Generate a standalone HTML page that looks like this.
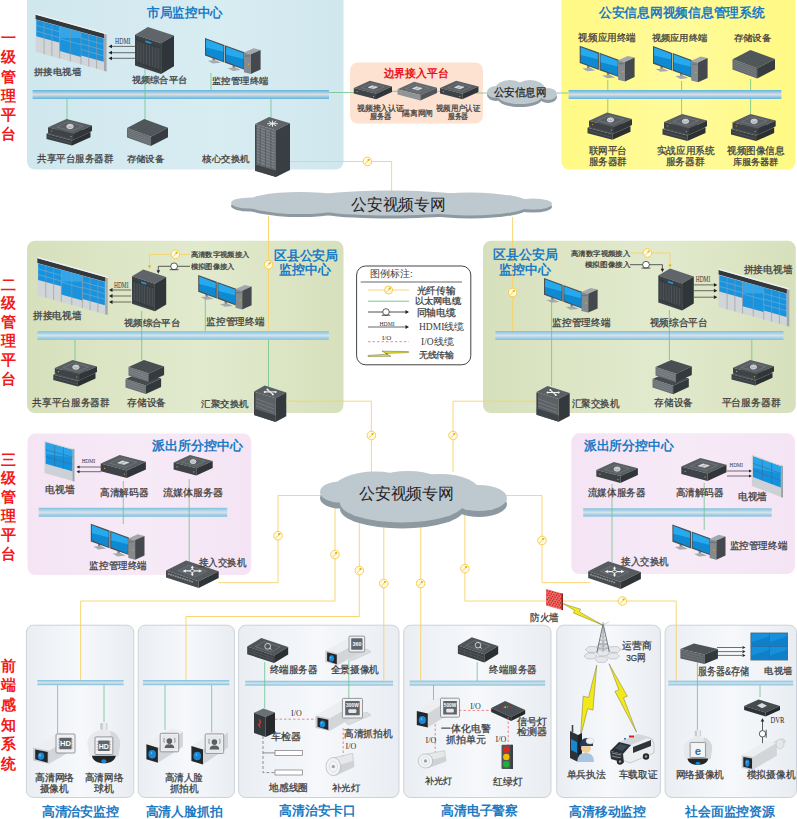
<!DOCTYPE html>
<html><head><meta charset="utf-8"><style>
html,body{margin:0;padding:0;background:#fff;width:797px;height:819px;overflow:hidden}
svg{display:block}
text{font-family:"Liberation Sans",sans-serif}
</style></head><body>
<svg width="797" height="819" viewBox="0 0 797 819">
<defs>
<linearGradient id="busg" x1="0" y1="0" x2="0" y2="1">
<stop offset="0" stop-color="#5fb4dc"/><stop offset="0.2" stop-color="#8fc6e4"/><stop offset="0.5" stop-color="#dcdde0"/><stop offset="0.8" stop-color="#8fc6e4"/><stop offset="1" stop-color="#5fb4dc"/>
</linearGradient>
<linearGradient id="busg2" x1="0" y1="0" x2="0" y2="1">
<stop offset="0" stop-color="#7cc0e0"/><stop offset="0.5" stop-color="#d6e2ea"/><stop offset="1" stop-color="#7cc0e0"/>
</linearGradient>
<linearGradient id="scr" x1="0" y1="0" x2="1" y2="1">
<stop offset="0" stop-color="#2aa8ee"/><stop offset="1" stop-color="#1177c4"/>
</linearGradient>
<linearGradient id="btm" x1="0" y1="0" x2="1" y2="0">
<stop offset="0" stop-color="#eaeef3"/><stop offset="0.5" stop-color="#f6f8fb"/><stop offset="1" stop-color="#e9edf2"/>
</linearGradient>
<linearGradient id="gblue" x1="0" y1="0" x2="1" y2="0">
<stop offset="0" stop-color="#d0e7ee"/><stop offset="0.6" stop-color="#d8edf2"/><stop offset="1" stop-color="#d0e7ee"/>
</linearGradient>
<linearGradient id="ggreen" x1="0" y1="0" x2="1" y2="0">
<stop offset="0" stop-color="#d7e0bc"/><stop offset="0.55" stop-color="#e2eace"/><stop offset="1" stop-color="#d7e0bc"/>
</linearGradient>
<linearGradient id="gyellow" x1="0" y1="0" x2="1" y2="0">
<stop offset="0" stop-color="#fff984"/><stop offset="0.5" stop-color="#fffb9a"/><stop offset="1" stop-color="#fff984"/>
</linearGradient>
<linearGradient id="gpink" x1="0" y1="0" x2="1" y2="0">
<stop offset="0" stop-color="#f4e4f4"/><stop offset="0.5" stop-color="#f7eaf7"/><stop offset="1" stop-color="#f4e4f4"/>
</linearGradient>
</defs>
<rect x="27.0" y="-8.0" width="316.5" height="177.5" rx="8" fill="url(#gblue)"/>
<rect x="350.0" y="62.5" width="133.0" height="61.0" rx="8" fill="#fde2d1"/>
<rect x="561.5" y="-8.0" width="234.0" height="177.5" rx="8" fill="url(#gyellow)"/>
<rect x="27.0" y="240.8" width="316.5" height="172.2" rx="8" fill="url(#ggreen)"/>
<rect x="483.0" y="240.8" width="312.8" height="172.2" rx="8" fill="url(#ggreen)"/>
<rect x="27.5" y="433.4" width="223.8" height="141.6" rx="8" fill="url(#gpink)"/>
<rect x="571.3" y="433.3" width="223.7" height="140.7" rx="8" fill="url(#gpink)"/>
<rect x="26.4" y="625.2" width="107.4" height="172.3" rx="7" fill="url(#btm)" stroke="#cdd2da" stroke-width="1"/>
<rect x="138.2" y="625.2" width="96.2" height="172.3" rx="7" fill="url(#btm)" stroke="#cdd2da" stroke-width="1"/>
<rect x="238.6" y="625.2" width="160.4" height="172.3" rx="7" fill="url(#btm)" stroke="#cdd2da" stroke-width="1"/>
<rect x="403.7" y="625.2" width="147.3" height="172.3" rx="7" fill="url(#btm)" stroke="#cdd2da" stroke-width="1"/>
<rect x="556.7" y="625.2" width="103.7" height="172.3" rx="7" fill="url(#btm)" stroke="#cdd2da" stroke-width="1"/>
<rect x="665.1" y="625.2" width="131.4" height="172.3" rx="7" fill="url(#btm)" stroke="#cdd2da" stroke-width="1"/>
<text x="8.3" y="37.7" font-size="15.00" fill="#f41a1a" text-anchor="middle" font-weight="bold" dominant-baseline="central" letter-spacing="0">一</text>
<text x="8.3" y="56.9" font-size="15.00" fill="#f41a1a" text-anchor="middle" font-weight="bold" dominant-baseline="central" letter-spacing="0">级</text>
<text x="8.3" y="76.1" font-size="15.00" fill="#f41a1a" text-anchor="middle" font-weight="bold" dominant-baseline="central" letter-spacing="0">管</text>
<text x="8.3" y="95.3" font-size="15.00" fill="#f41a1a" text-anchor="middle" font-weight="bold" dominant-baseline="central" letter-spacing="0">理</text>
<text x="8.3" y="114.5" font-size="15.00" fill="#f41a1a" text-anchor="middle" font-weight="bold" dominant-baseline="central" letter-spacing="0">平</text>
<text x="8.3" y="133.7" font-size="15.00" fill="#f41a1a" text-anchor="middle" font-weight="bold" dominant-baseline="central" letter-spacing="0">台</text>
<text x="8.3" y="284.0" font-size="15.00" fill="#f41a1a" text-anchor="middle" font-weight="bold" dominant-baseline="central" letter-spacing="0">二</text>
<text x="8.3" y="302.9" font-size="15.00" fill="#f41a1a" text-anchor="middle" font-weight="bold" dominant-baseline="central" letter-spacing="0">级</text>
<text x="8.3" y="321.8" font-size="15.00" fill="#f41a1a" text-anchor="middle" font-weight="bold" dominant-baseline="central" letter-spacing="0">管</text>
<text x="8.3" y="340.7" font-size="15.00" fill="#f41a1a" text-anchor="middle" font-weight="bold" dominant-baseline="central" letter-spacing="0">理</text>
<text x="8.3" y="359.6" font-size="15.00" fill="#f41a1a" text-anchor="middle" font-weight="bold" dominant-baseline="central" letter-spacing="0">平</text>
<text x="8.3" y="378.5" font-size="15.00" fill="#f41a1a" text-anchor="middle" font-weight="bold" dominant-baseline="central" letter-spacing="0">台</text>
<text x="8.3" y="459.0" font-size="15.00" fill="#f41a1a" text-anchor="middle" font-weight="bold" dominant-baseline="central" letter-spacing="0">三</text>
<text x="8.3" y="477.9" font-size="15.00" fill="#f41a1a" text-anchor="middle" font-weight="bold" dominant-baseline="central" letter-spacing="0">级</text>
<text x="8.3" y="496.8" font-size="15.00" fill="#f41a1a" text-anchor="middle" font-weight="bold" dominant-baseline="central" letter-spacing="0">管</text>
<text x="8.3" y="515.7" font-size="15.00" fill="#f41a1a" text-anchor="middle" font-weight="bold" dominant-baseline="central" letter-spacing="0">理</text>
<text x="8.3" y="534.6" font-size="15.00" fill="#f41a1a" text-anchor="middle" font-weight="bold" dominant-baseline="central" letter-spacing="0">平</text>
<text x="8.3" y="553.5" font-size="15.00" fill="#f41a1a" text-anchor="middle" font-weight="bold" dominant-baseline="central" letter-spacing="0">台</text>
<text x="8.3" y="665.0" font-size="15.00" fill="#f41a1a" text-anchor="middle" font-weight="bold" dominant-baseline="central" letter-spacing="0">前</text>
<text x="8.3" y="684.7" font-size="15.00" fill="#f41a1a" text-anchor="middle" font-weight="bold" dominant-baseline="central" letter-spacing="0">端</text>
<text x="8.3" y="704.4" font-size="15.00" fill="#f41a1a" text-anchor="middle" font-weight="bold" dominant-baseline="central" letter-spacing="0">感</text>
<text x="8.3" y="724.1" font-size="15.00" fill="#f41a1a" text-anchor="middle" font-weight="bold" dominant-baseline="central" letter-spacing="0">知</text>
<text x="8.3" y="743.8" font-size="15.00" fill="#f41a1a" text-anchor="middle" font-weight="bold" dominant-baseline="central" letter-spacing="0">系</text>
<text x="8.3" y="763.5" font-size="15.00" fill="#f41a1a" text-anchor="middle" font-weight="bold" dominant-baseline="central" letter-spacing="0">统</text>
<text x="185.0" y="12.5" font-size="12.54" fill="#1a7ac4" text-anchor="middle" font-weight="bold" dominant-baseline="central" textLength="75.3" lengthAdjust="spacingAndGlyphs">市局监控中心</text>
<rect x="32.6" y="90.0" width="296.4" height="9.0" fill="url(#busg)"/>
<line x1="67.0" y1="99.0" x2="67.0" y2="121.0" stroke="#6cc28a" stroke-width="0.8"/>
<line x1="145.0" y1="68.0" x2="145.0" y2="121.0" stroke="#6cc28a" stroke-width="0.8"/>
<line x1="211.0" y1="73.0" x2="211.0" y2="90.0" stroke="#6cc28a" stroke-width="0.8"/>
<line x1="271.0" y1="99.0" x2="271.0" y2="118.0" stroke="#6cc28a" stroke-width="0.8"/>
<line x1="329.0" y1="92.5" x2="360.0" y2="92.5" stroke="#6cc28a" stroke-width="0.8"/>
<polygon points="35.6,14.4 106.5,34.1 106.5,71.5 35.6,51.8" fill="#d2d5d8" />
<polygon points="104.0,33.4 106.5,34.1 106.5,71.5 104.0,70.8" fill="#a3a8ac" />
<polygon points="35.6,14.4 104.0,33.4 104.0,38.3 35.6,19.3" fill="#33383c" />
<polygon points="35.6,13.2 106.5,32.9 106.5,34.4 35.6,14.7" fill="#f0f0f0" />
<polygon points="36.3,19.8 59.7,26.3 59.7,42.8 36.3,36.3" fill="#1b92dc" />
<polygon points="59.7,26.3 81.0,32.2 81.0,56.9 59.7,51.0" fill="#1b92dc" />
<polygon points="81.0,32.2 103.7,38.5 103.7,61.7 81.0,55.4" fill="#1b92dc" />
<polygon points="59.7,26.3 81.0,32.2 81.0,38.2 59.7,37.9" fill="#33a6ea" />
<polyline points="44.1,22.0 44.1,54.2" fill="none" stroke="#8f959a" stroke-width="0.6"/>
<polyline points="51.9,24.2 51.9,56.3" fill="none" stroke="#8f959a" stroke-width="0.6"/>
<polyline points="59.7,26.3 59.7,58.5" fill="none" stroke="#8f959a" stroke-width="0.6"/>
<polyline points="70.3,29.3 70.3,61.5" fill="none" stroke="#8f959a" stroke-width="0.6"/>
<polyline points="81.0,32.2 81.0,64.4" fill="none" stroke="#8f959a" stroke-width="0.6"/>
<polyline points="88.8,34.4 88.8,66.6" fill="none" stroke="#8f959a" stroke-width="0.6"/>
<polyline points="96.6,36.6 96.6,68.7" fill="none" stroke="#8f959a" stroke-width="0.6"/>
<polyline points="36.3,25.4 59.7,31.9" fill="none" stroke="#7fb8e0" stroke-width="0.5"/>
<polyline points="36.3,31.1 59.7,37.6" fill="none" stroke="#7fb8e0" stroke-width="0.5"/>
<polyline points="81.0,38.2 103.7,44.5" fill="none" stroke="#7fb8e0" stroke-width="0.5"/>
<polyline points="81.0,43.8 103.7,50.1" fill="none" stroke="#7fb8e0" stroke-width="0.5"/>
<polyline points="81.0,49.4 103.7,55.8" fill="none" stroke="#7fb8e0" stroke-width="0.5"/>
<polyline points="59.7,38.7 81.0,44.6" fill="none" stroke="#7fb8e0" stroke-width="0.5"/>
<line x1="110.0" y1="46.4" x2="135.0" y2="46.4" stroke="#333" stroke-width="0.7"/>
<polygon points="108.5,46.4 112.0,44.5 112.0,48.3" fill="#222" />
<line x1="110.0" y1="52.7" x2="135.0" y2="52.7" stroke="#333" stroke-width="0.7"/>
<polygon points="108.5,52.7 112.0,50.8 112.0,54.6" fill="#222" />
<line x1="110.0" y1="58.3" x2="135.0" y2="58.3" stroke="#333" stroke-width="0.7"/>
<polygon points="108.5,58.3 112.0,56.4 112.0,60.2" fill="#222" />
<text x="115.0" y="41.4" font-size="7.50" fill="#333" dominant-baseline="central" textLength="15.5" lengthAdjust="spacingAndGlyphs" style="font-family:'Liberation Serif',serif">HDMI</text>
<polygon points="135.0,34.7 161.1,43.3 174.0,35.6 147.9,27.0" fill="#5f6569" />
<polygon points="135.0,34.7 161.1,43.3 161.1,74.0 135.0,65.4" fill="#3c4145" />
<polygon points="161.1,43.3 174.0,35.6 174.0,66.3 161.1,74.0" fill="#30353a" />
<line x1="137.9" y1="41.8" x2="137.9" y2="61.7" stroke="#5a6064" stroke-width="0.6"/>
<line x1="140.8" y1="42.8" x2="140.8" y2="62.7" stroke="#5a6064" stroke-width="0.6"/>
<line x1="143.7" y1="43.7" x2="143.7" y2="63.7" stroke="#5a6064" stroke-width="0.6"/>
<line x1="146.6" y1="44.7" x2="146.6" y2="64.6" stroke="#5a6064" stroke-width="0.6"/>
<line x1="149.5" y1="45.6" x2="149.5" y2="65.6" stroke="#5a6064" stroke-width="0.6"/>
<line x1="152.4" y1="46.6" x2="152.4" y2="66.5" stroke="#5a6064" stroke-width="0.6"/>
<line x1="155.3" y1="47.6" x2="155.3" y2="67.5" stroke="#5a6064" stroke-width="0.6"/>
<line x1="158.2" y1="48.5" x2="158.2" y2="68.4" stroke="#5a6064" stroke-width="0.6"/>
<line x1="136.0" y1="39.3" x2="160.1" y2="47.9" stroke="#2c3034" stroke-width="0.6"/>
<line x1="136.0" y1="62.3" x2="160.1" y2="70.9" stroke="#2c3034" stroke-width="0.6"/>
<polygon points="145.5,40.6 151.2,42.5 151.2,44.1 145.5,42.2" fill="#2a9ae0"/>
<polygon points="212.5,57.6 214.9,58.0 214.9,60.8 212.5,60.6" fill="#7d8388" />
<polygon points="207.7,60.8 215.7,60.2 220.7,62.8 212.7,63.6" fill="#a4aaae" />
<polygon points="205.0,38.0 224.4,45.0 224.4,62.5 205.0,55.5" fill="#4a4f53" />
<polygon points="206.1,39.5 223.3,46.1 223.3,61.2 206.1,54.4" fill="#0f8ad2" />
<polygon points="206.1,39.5 223.3,46.1 223.3,51.7 206.1,47.4" fill="#27a9ee" />
<polygon points="232.6,64.9 235.0,65.3 235.0,68.1 232.6,67.9" fill="#7d8388" />
<polygon points="227.8,68.1 235.8,67.5 240.8,70.1 232.8,70.9" fill="#a4aaae" />
<polygon points="225.0,45.2 244.5,52.2 244.5,69.7 225.0,62.7" fill="#4a4f53" />
<polygon points="226.1,46.7 243.4,53.3 243.4,68.4 226.1,61.6" fill="#0f8ad2" />
<polygon points="226.1,46.7 243.4,53.3 243.4,58.9 226.1,54.6" fill="#27a9ee" />
<polygon points="243.9,52.5 250.9,54.3 260.6,49.9 253.6,48.2" fill="#a3a8ac" />
<polygon points="243.9,52.5 250.9,54.3 250.9,73.9 243.9,72.2" fill="#858a8e" />
<polygon points="250.9,54.3 260.6,49.9 260.6,69.5 250.9,73.9" fill="#45494d" />
<rect x="244.4" y="55.5" width="5.4" height="1.0" rx="0" fill="#6a6f73" />
<circle cx="248.7" cy="64.2" r="0.7" fill="#e0b030"/>
<polygon points="46.5,133.8 72.0,140.4 90.5,132.1 65.0,125.5" fill="#4d5358" />
<polygon points="46.5,133.8 72.0,140.4 72.0,145.6 46.5,138.9" fill="#3a3f43" />
<polygon points="72.0,140.4 90.5,132.1 90.5,137.2 72.0,145.6" fill="#2c3033" />
<line x1="47.5" y1="136.5" x2="71.0" y2="143.1" stroke="#5d6368" stroke-width="0.5"/>
<polygon points="48.0,127.3 73.5,134.0 92.0,125.6 66.5,119.0" fill="#585e62" />
<polygon points="48.0,127.3 73.5,134.0 73.5,139.4 48.0,132.7" fill="#3e4347" />
<polygon points="73.5,134.0 92.0,125.6 92.0,131.0 73.5,139.4" fill="#30353a" />
<polygon points="56.8,127.0 72.1,131.0 83.2,126.0 67.9,122.0" fill="none" stroke="#7e8489" stroke-width="0.5" />
<ellipse cx="70.0" cy="126.5" rx="3.3" ry="2.2" fill="#aeb3b7" stroke="#eef0f1" stroke-width="0.7"/>
<path d="M68.2,126.5 Q70.0,124.3 71.8,126.5" fill="none" stroke="#f4f4f4" stroke-width="0.6"/>
<circle cx="51.8" cy="131.0" r="0.6" fill="#d9a040"/>
<circle cx="71.0" cy="136.7" r="0.6" fill="#d9a040"/>
<polygon points="127.0,128.0 150.8,136.7 168.0,127.7 144.2,119.0" fill="#50575a" />
<polygon points="127.0,128.0 150.8,136.7 150.8,146.1 127.0,137.4" fill="#62686c" />
<polygon points="150.8,136.7 168.0,127.7 168.0,137.2 150.8,146.1" fill="#363c40" />
<line x1="128.0" y1="129.8" x2="149.8" y2="138.6" stroke="#868c90" stroke-width="0.6"/>
<line x1="128.0" y1="131.7" x2="149.8" y2="140.5" stroke="#868c90" stroke-width="0.6"/>
<line x1="128.0" y1="133.6" x2="149.8" y2="142.4" stroke="#868c90" stroke-width="0.6"/>
<line x1="128.0" y1="135.5" x2="149.8" y2="144.2" stroke="#868c90" stroke-width="0.6"/>
<polygon points="255.0,124.0 276.0,130.3 290.0,123.3 269.0,117.0" fill="#5e6468" />
<polygon points="255.0,124.0 276.0,130.3 276.0,177.0 255.0,170.7" fill="#676d72" />
<polygon points="276.0,130.3 290.0,123.3 290.0,170.0 276.0,177.0" fill="#393e42" />
<polygon points="255.0,164.2 276.0,170.5 276.0,177.0 255.0,170.7" fill="#3f4448" />
<line x1="256.5" y1="126.9" x2="274.5" y2="133.2" stroke="#8d9398" stroke-width="0.7"/>
<line x1="256.5" y1="129.7" x2="274.5" y2="136.0" stroke="#8d9398" stroke-width="0.7"/>
<line x1="256.5" y1="132.6" x2="274.5" y2="138.9" stroke="#8d9398" stroke-width="0.7"/>
<line x1="256.5" y1="135.5" x2="274.5" y2="141.8" stroke="#8d9398" stroke-width="0.7"/>
<line x1="256.5" y1="138.3" x2="274.5" y2="144.6" stroke="#8d9398" stroke-width="0.7"/>
<line x1="256.5" y1="141.2" x2="274.5" y2="147.5" stroke="#8d9398" stroke-width="0.7"/>
<line x1="256.5" y1="144.1" x2="274.5" y2="150.4" stroke="#8d9398" stroke-width="0.7"/>
<line x1="256.5" y1="146.9" x2="274.5" y2="153.2" stroke="#8d9398" stroke-width="0.7"/>
<line x1="256.5" y1="149.8" x2="274.5" y2="156.1" stroke="#8d9398" stroke-width="0.7"/>
<line x1="256.5" y1="152.7" x2="274.5" y2="159.0" stroke="#8d9398" stroke-width="0.7"/>
<line x1="256.5" y1="155.6" x2="274.5" y2="161.9" stroke="#8d9398" stroke-width="0.7"/>
<line x1="256.5" y1="158.4" x2="274.5" y2="164.7" stroke="#8d9398" stroke-width="0.7"/>
<line x1="256.5" y1="161.3" x2="274.5" y2="167.6" stroke="#8d9398" stroke-width="0.7"/>
<line x1="260.2" y1="127.6" x2="260.2" y2="164.8" stroke="#484d51" stroke-width="0.6"/>
<line x1="265.5" y1="129.2" x2="265.5" y2="166.4" stroke="#484d51" stroke-width="0.6"/>
<line x1="270.8" y1="130.7" x2="270.8" y2="168.0" stroke="#484d51" stroke-width="0.6"/>
<line x1="255.8" y1="125.0" x2="255.8" y2="164.2" stroke="#3a3f43" stroke-width="1.2"/>
<line x1="267.2" y1="123.7" x2="277.8" y2="123.7" stroke="#f0f0f0" stroke-width="0.9"/>
<line x1="268.8" y1="121.4" x2="276.2" y2="125.9" stroke="#f0f0f0" stroke-width="0.9"/>
<line x1="272.5" y1="120.5" x2="272.5" y2="126.8" stroke="#f0f0f0" stroke-width="0.9"/>
<line x1="276.2" y1="121.4" x2="268.8" y2="125.9" stroke="#f0f0f0" stroke-width="0.9"/>
<text x="57.6" y="71.5" font-size="9.47" fill="#3c3c3c" text-anchor="middle" font-weight="normal" dominant-baseline="central" textLength="47.3" lengthAdjust="spacingAndGlyphs" stroke="#3c3c3c" stroke-width="0.25">拼接电视墙</text>
<text x="159.5" y="80.0" font-size="9.32" fill="#3c3c3c" text-anchor="middle" font-weight="normal" dominant-baseline="central" textLength="55.9" lengthAdjust="spacingAndGlyphs" stroke="#3c3c3c" stroke-width="0.25">视频综合平台</text>
<text x="240.2" y="80.0" font-size="9.41" fill="#3c3c3c" text-anchor="middle" font-weight="normal" dominant-baseline="central" textLength="56.4" lengthAdjust="spacingAndGlyphs" stroke="#3c3c3c" stroke-width="0.25">监控管理终端</text>
<text x="75.3" y="158.6" font-size="9.54" fill="#3c3c3c" text-anchor="middle" font-weight="normal" dominant-baseline="central" textLength="76.4" lengthAdjust="spacingAndGlyphs" stroke="#3c3c3c" stroke-width="0.25">共享平台服务器群</text>
<text x="145.5" y="158.6" font-size="9.49" fill="#3c3c3c" text-anchor="middle" font-weight="normal" dominant-baseline="central" textLength="37.9" lengthAdjust="spacingAndGlyphs" stroke="#3c3c3c" stroke-width="0.25">存储设备</text>
<text x="225.8" y="158.6" font-size="9.49" fill="#3c3c3c" text-anchor="middle" font-weight="normal" dominant-baseline="central" textLength="47.4" lengthAdjust="spacingAndGlyphs" stroke="#3c3c3c" stroke-width="0.25">核心交换机</text>
<text x="415.9" y="73.0" font-size="10.80" fill="#e8111b" text-anchor="middle" font-weight="bold" dominant-baseline="central" textLength="64.8" lengthAdjust="spacingAndGlyphs">边界接入平台</text>
<line x1="390.0" y1="91.3" x2="400.0" y2="91.3" stroke="#6cc28a" stroke-width="0.8"/>
<line x1="434.0" y1="91.3" x2="444.0" y2="91.3" stroke="#6cc28a" stroke-width="0.8"/>
<line x1="476.0" y1="93.0" x2="495.0" y2="93.0" stroke="#6cc28a" stroke-width="0.8"/>
<polygon points="353.8,87.9 376.0,93.7 392.0,86.5 369.8,80.7" fill="#585e62" />
<polygon points="353.8,87.9 376.0,93.7 376.0,99.3 353.8,93.6" fill="#3e4347" />
<polygon points="376.0,93.7 392.0,86.5 392.0,92.1 376.0,99.3" fill="#30353a" />
<polygon points="361.4,87.6 374.7,91.1 384.4,86.8 371.1,83.3" fill="none" stroke="#7e8489" stroke-width="0.5" />
<polygon points="368.1,87.4 373.7,88.8 377.7,87.0 372.1,85.6" fill="#d8dbde" stroke="#f4f4f4" stroke-width="0.4" />
<line x1="370.9" y1="88.1" x2="374.9" y2="86.3" stroke="#6a7075" stroke-width="0.5"/>
<circle cx="357.1" cy="91.6" r="0.6" fill="#d9a040"/>
<circle cx="373.5" cy="96.5" r="0.6" fill="#d9a040"/>
<polygon points="397.5,89.2 420.4,95.1 437.0,87.7 414.1,81.7" fill="#62686c" />
<polygon points="397.5,89.2 420.4,95.1 420.4,100.5 397.5,94.5" fill="#8e9498" />
<polygon points="420.4,95.1 437.0,87.7 437.0,93.0 420.4,100.5" fill="#50565a" />
<polygon points="405.4,88.9 419.1,92.4 429.1,88.0 415.4,84.4" fill="none" stroke="#7e8489" stroke-width="0.5" />
<polygon points="412.3,88.6 418.0,90.1 422.2,88.2 416.5,86.7" fill="#d8dbde" stroke="#f4f4f4" stroke-width="0.4" />
<line x1="415.2" y1="89.3" x2="419.3" y2="87.5" stroke="#6a7075" stroke-width="0.5"/>
<circle cx="400.9" cy="92.7" r="0.6" fill="#d9a040"/>
<circle cx="417.9" cy="97.8" r="0.6" fill="#d9a040"/>
<polygon points="440.0,88.0 462.3,93.8 478.5,86.5 456.2,80.7" fill="#585e62" />
<polygon points="440.0,88.0 462.3,93.8 462.3,99.3 440.0,93.5" fill="#3e4347" />
<polygon points="462.3,93.8 478.5,86.5 478.5,92.0 462.3,99.3" fill="#30353a" />
<polygon points="447.7,87.7 461.1,91.2 470.8,86.8 457.4,83.3" fill="none" stroke="#7e8489" stroke-width="0.5" />
<polygon points="454.4,87.4 460.0,88.9 464.1,87.1 458.5,85.6" fill="#d8dbde" stroke="#f4f4f4" stroke-width="0.4" />
<line x1="457.2" y1="88.2" x2="461.3" y2="86.3" stroke="#6a7075" stroke-width="0.5"/>
<circle cx="443.3" cy="91.6" r="0.6" fill="#d9a040"/>
<circle cx="459.8" cy="96.5" r="0.6" fill="#d9a040"/>
<text x="380.5" y="108.4" font-size="8.00" fill="#3c3c3c" text-anchor="middle" font-weight="normal" dominant-baseline="central" textLength="47.8" lengthAdjust="spacingAndGlyphs" stroke="#3c3c3c" stroke-width="0.25">视频接入认证</text>
<text x="380.5" y="116.7" font-size="8.00" fill="#3c3c3c" text-anchor="middle" font-weight="normal" dominant-baseline="central" textLength="21.7" lengthAdjust="spacingAndGlyphs" stroke="#3c3c3c" stroke-width="0.25">服务器</text>
<text x="417.6" y="113.0" font-size="8.00" fill="#3c3c3c" text-anchor="middle" font-weight="normal" dominant-baseline="central" textLength="30.9" lengthAdjust="spacingAndGlyphs" stroke="#3c3c3c" stroke-width="0.25">隔离网闸</text>
<text x="458.0" y="108.0" font-size="8.00" fill="#3c3c3c" text-anchor="middle" font-weight="normal" dominant-baseline="central" textLength="44.7" lengthAdjust="spacingAndGlyphs" stroke="#3c3c3c" stroke-width="0.25">视频用户认证</text>
<text x="458.0" y="116.0" font-size="8.00" fill="#3c3c3c" text-anchor="middle" font-weight="normal" dominant-baseline="central" textLength="20.7" lengthAdjust="spacingAndGlyphs" stroke="#3c3c3c" stroke-width="0.25">服务器</text>
<ellipse cx="496.0" cy="95.0" rx="9.0" ry="6.0" fill="#8d99a1"/>
<ellipse cx="510.0" cy="92.0" rx="15.0" ry="9.0" fill="#8d99a1"/>
<ellipse cx="530.0" cy="92.0" rx="15.0" ry="9.0" fill="#8d99a1"/>
<ellipse cx="520.0" cy="99.0" rx="22.0" ry="8.0" fill="#8d99a1"/>
<ellipse cx="548.0" cy="97.0" rx="9.0" ry="6.0" fill="#8d99a1"/>
<ellipse cx="496.0" cy="92.0" rx="9.0" ry="6.0" fill="#bec8cf"/>
<ellipse cx="510.0" cy="89.0" rx="15.0" ry="9.0" fill="#bec8cf"/>
<ellipse cx="530.0" cy="89.0" rx="15.0" ry="9.0" fill="#bec8cf"/>
<ellipse cx="520.0" cy="96.0" rx="22.0" ry="8.0" fill="#bec8cf"/>
<ellipse cx="548.0" cy="94.0" rx="9.0" ry="6.0" fill="#bec8cf"/>
<text x="519.8" y="91.6" font-size="11.00" fill="#222" text-anchor="middle" font-weight="normal" dominant-baseline="central" textLength="52.6" lengthAdjust="spacingAndGlyphs" stroke="#222" stroke-width="0.25">公安信息网</text>
<line x1="557.0" y1="93.0" x2="568.6" y2="93.0" stroke="#6cc28a" stroke-width="0.8"/>
<text x="681.8" y="12.5" font-size="12.75" fill="#1a7ac4" text-anchor="middle" font-weight="bold" dominant-baseline="central" textLength="165.8" lengthAdjust="spacingAndGlyphs">公安信息网视频信息管理系统</text>
<rect x="568.6" y="90.0" width="212.8" height="9.0" fill="url(#busg)"/>
<line x1="607.8" y1="80.0" x2="607.8" y2="90.0" stroke="#6cc28a" stroke-width="0.8"/>
<line x1="607.8" y1="99.0" x2="607.8" y2="113.0" stroke="#6cc28a" stroke-width="0.8"/>
<line x1="681.6" y1="81.0" x2="681.6" y2="90.0" stroke="#6cc28a" stroke-width="0.8"/>
<line x1="681.6" y1="99.0" x2="681.6" y2="114.0" stroke="#6cc28a" stroke-width="0.8"/>
<line x1="750.6" y1="79.0" x2="750.6" y2="90.0" stroke="#6cc28a" stroke-width="0.8"/>
<line x1="750.6" y1="99.0" x2="750.6" y2="114.0" stroke="#6cc28a" stroke-width="0.8"/>
<polygon points="587.1,65.2 589.5,65.6 589.5,68.4 587.1,68.2" fill="#7d8388" />
<polygon points="582.3,68.4 590.3,67.8 595.3,70.4 587.3,71.2" fill="#a4aaae" />
<polygon points="579.7,45.7 598.9,52.6 598.9,70.0 579.7,63.1" fill="#4a4f53" />
<polygon points="580.8,47.2 597.8,53.7 597.8,68.7 580.8,62.0" fill="#0f8ad2" />
<polygon points="580.8,47.2 597.8,53.7 597.8,59.3 580.8,55.0" fill="#27a9ee" />
<polygon points="606.9,72.3 609.3,72.7 609.3,75.5 606.9,75.3" fill="#7d8388" />
<polygon points="602.1,75.5 610.1,74.9 615.1,77.5 607.1,78.3" fill="#a4aaae" />
<polygon points="599.5,52.8 618.7,59.7 618.7,77.1 599.5,70.2" fill="#4a4f53" />
<polygon points="600.6,54.3 617.6,60.8 617.6,75.8 600.6,69.1" fill="#0f8ad2" />
<polygon points="600.6,54.3 617.6,60.8 617.6,66.4 600.6,62.2" fill="#27a9ee" />
<polygon points="618.1,60.2 625.0,61.9 634.6,57.6 627.7,55.9" fill="#a3a8ac" />
<polygon points="618.1,60.2 625.0,61.9 625.0,81.4 618.1,79.7" fill="#858a8e" />
<polygon points="625.0,61.9 634.6,57.6 634.6,77.1 625.0,81.4" fill="#45494d" />
<rect x="618.6" y="63.2" width="5.3" height="1.0" rx="0" fill="#6a6f73" />
<circle cx="622.9" cy="71.8" r="0.7" fill="#e0b030"/>
<polygon points="660.4,65.8 662.8,66.2 662.8,69.0 660.4,68.8" fill="#7d8388" />
<polygon points="655.6,69.0 663.6,68.4 668.6,71.0 660.6,71.8" fill="#a4aaae" />
<polygon points="653.0,46.0 672.1,52.9 672.1,70.6 653.0,63.8" fill="#4a4f53" />
<polygon points="654.1,47.5 671.0,54.0 671.0,69.3 654.1,62.6" fill="#0f8ad2" />
<polygon points="654.1,47.5 671.0,54.0 671.0,59.6 654.1,55.5" fill="#27a9ee" />
<polygon points="680.1,72.9 682.5,73.3 682.5,76.1 680.1,75.9" fill="#7d8388" />
<polygon points="675.3,76.1 683.3,75.5 688.3,78.1 680.3,78.9" fill="#a4aaae" />
<polygon points="672.7,53.1 691.8,60.0 691.8,77.7 672.7,70.8" fill="#4a4f53" />
<polygon points="673.8,54.6 690.7,61.1 690.7,76.4 673.8,69.7" fill="#0f8ad2" />
<polygon points="673.8,54.6 690.7,61.1 690.7,66.7 673.8,62.6" fill="#27a9ee" />
<polygon points="691.2,60.7 698.0,62.4 707.6,58.1 700.7,56.4" fill="#a3a8ac" />
<polygon points="691.2,60.7 698.0,62.4 698.0,82.3 691.2,80.6" fill="#858a8e" />
<polygon points="698.0,62.4 707.6,58.1 707.6,78.0 698.0,82.3" fill="#45494d" />
<rect x="691.7" y="63.7" width="5.3" height="1.0" rx="0" fill="#6a6f73" />
<circle cx="695.9" cy="72.6" r="0.7" fill="#e0b030"/>
<polygon points="732.5,59.3 757.1,68.3 775.0,59.0 750.4,50.0" fill="#50575a" />
<polygon points="732.5,59.3 757.1,68.3 757.1,78.5 732.5,69.4" fill="#62686c" />
<polygon points="757.1,68.3 775.0,59.0 775.0,69.2 757.1,78.5" fill="#363c40" />
<line x1="733.5" y1="61.3" x2="756.1" y2="70.4" stroke="#868c90" stroke-width="0.6"/>
<line x1="733.5" y1="63.3" x2="756.1" y2="72.4" stroke="#868c90" stroke-width="0.6"/>
<line x1="733.5" y1="65.4" x2="756.1" y2="74.4" stroke="#868c90" stroke-width="0.6"/>
<line x1="733.5" y1="67.4" x2="756.1" y2="76.4" stroke="#868c90" stroke-width="0.6"/>
<polygon points="587.5,127.8 612.4,134.2 630.5,126.1 605.6,119.6" fill="#4d5358" />
<polygon points="587.5,127.8 612.4,134.2 612.4,139.8 587.5,133.3" fill="#3a3f43" />
<polygon points="612.4,134.2 630.5,126.1 630.5,131.7 612.4,139.8" fill="#2c3033" />
<line x1="588.5" y1="130.7" x2="611.4" y2="137.2" stroke="#5d6368" stroke-width="0.5"/>
<polygon points="589.0,120.7 613.9,127.2 632.0,119.1 607.1,112.6" fill="#585e62" />
<polygon points="589.0,120.7 613.9,127.2 613.9,133.1 589.0,126.6" fill="#3e4347" />
<polygon points="613.9,127.2 632.0,119.1 632.0,124.9 613.9,133.1" fill="#30353a" />
<polygon points="597.6,120.4 612.6,124.3 623.4,119.4 608.4,115.5" fill="none" stroke="#7e8489" stroke-width="0.5" />
<ellipse cx="610.5" cy="119.9" rx="3.2" ry="2.1" fill="#aeb3b7" stroke="#eef0f1" stroke-width="0.7"/>
<path d="M608.8,119.9 Q610.5,117.8 612.2,119.9" fill="none" stroke="#f4f4f4" stroke-width="0.6"/>
<circle cx="592.7" cy="124.6" r="0.6" fill="#d9a040"/>
<circle cx="611.4" cy="130.1" r="0.6" fill="#d9a040"/>
<polygon points="662.5,129.1 687.4,135.6 705.5,127.4 680.6,121.0" fill="#4d5358" />
<polygon points="662.5,129.1 687.4,135.6 687.4,141.1 662.5,134.6" fill="#3a3f43" />
<polygon points="687.4,135.6 705.5,127.4 705.5,133.0 687.4,141.1" fill="#2c3033" />
<line x1="663.5" y1="132.0" x2="686.4" y2="138.5" stroke="#5d6368" stroke-width="0.5"/>
<polygon points="664.0,122.1 688.9,128.6 707.0,120.5 682.1,114.0" fill="#585e62" />
<polygon points="664.0,122.1 688.9,128.6 688.9,134.4 664.0,127.9" fill="#3e4347" />
<polygon points="688.9,128.6 707.0,120.5 707.0,126.3 688.9,134.4" fill="#30353a" />
<polygon points="672.6,121.8 687.6,125.7 698.4,120.8 683.4,116.9" fill="none" stroke="#7e8489" stroke-width="0.5" />
<ellipse cx="685.5" cy="121.3" rx="3.2" ry="2.1" fill="#aeb3b7" stroke="#eef0f1" stroke-width="0.7"/>
<path d="M683.8,121.3 Q685.5,119.2 687.2,121.3" fill="none" stroke="#f4f4f4" stroke-width="0.6"/>
<circle cx="667.7" cy="126.0" r="0.6" fill="#d9a040"/>
<circle cx="686.4" cy="131.5" r="0.6" fill="#d9a040"/>
<polygon points="731.0,129.1 756.1,135.6 774.2,127.5 749.1,121.0" fill="#4d5358" />
<polygon points="731.0,129.1 756.1,135.6 756.1,141.1 731.0,134.6" fill="#3a3f43" />
<polygon points="756.1,135.6 774.2,127.5 774.2,133.0 756.1,141.1" fill="#2c3033" />
<line x1="732.0" y1="132.0" x2="755.1" y2="138.5" stroke="#5d6368" stroke-width="0.5"/>
<polygon points="732.5,122.2 757.6,128.7 775.7,120.5 750.6,114.0" fill="#585e62" />
<polygon points="732.5,122.2 757.6,128.7 757.6,134.5 732.5,128.0" fill="#3e4347" />
<polygon points="757.6,128.7 775.7,120.5 775.7,126.3 757.6,134.5" fill="#30353a" />
<polygon points="741.1,121.8 756.2,125.7 767.1,120.8 752.0,116.9" fill="none" stroke="#7e8489" stroke-width="0.5" />
<ellipse cx="754.1" cy="121.3" rx="3.2" ry="2.2" fill="#aeb3b7" stroke="#eef0f1" stroke-width="0.7"/>
<path d="M752.4,121.3 Q754.1,119.2 755.8,121.3" fill="none" stroke="#f4f4f4" stroke-width="0.6"/>
<circle cx="736.3" cy="126.0" r="0.6" fill="#d9a040"/>
<circle cx="755.1" cy="131.6" r="0.6" fill="#d9a040"/>
<text x="607.2" y="37.4" font-size="9.63" fill="#3c3c3c" text-anchor="middle" font-weight="normal" dominant-baseline="central" textLength="57.8" lengthAdjust="spacingAndGlyphs" stroke="#3c3c3c" stroke-width="0.25">视频应用终端</text>
<text x="679.5" y="37.6" font-size="9.32" fill="#3c3c3c" text-anchor="middle" font-weight="normal" dominant-baseline="central" textLength="55.9" lengthAdjust="spacingAndGlyphs" stroke="#3c3c3c" stroke-width="0.25">视频应用终端</text>
<text x="752.5" y="37.6" font-size="9.49" fill="#3c3c3c" text-anchor="middle" font-weight="normal" dominant-baseline="central" textLength="37.9" lengthAdjust="spacingAndGlyphs" stroke="#3c3c3c" stroke-width="0.25">存储设备</text>
<text x="607.8" y="150.3" font-size="9.62" fill="#3c3c3c" text-anchor="middle" font-weight="normal" dominant-baseline="central" textLength="38.5" lengthAdjust="spacingAndGlyphs" stroke="#3c3c3c" stroke-width="0.25">联网平台</text>
<text x="607.8" y="161.6" font-size="9.62" fill="#3c3c3c" text-anchor="middle" font-weight="normal" dominant-baseline="central" textLength="38.5" lengthAdjust="spacingAndGlyphs" stroke="#3c3c3c" stroke-width="0.25">服务器群</text>
<text x="685.5" y="150.6" font-size="9.66" fill="#3c3c3c" text-anchor="middle" font-weight="normal" dominant-baseline="central" textLength="58.0" lengthAdjust="spacingAndGlyphs" stroke="#3c3c3c" stroke-width="0.25">实战应用系统</text>
<text x="685.0" y="161.6" font-size="9.74" fill="#3c3c3c" text-anchor="middle" font-weight="normal" dominant-baseline="central" textLength="39.0" lengthAdjust="spacingAndGlyphs" stroke="#3c3c3c" stroke-width="0.25">服务器群</text>
<text x="755.8" y="150.6" font-size="9.58" fill="#3c3c3c" text-anchor="middle" font-weight="normal" dominant-baseline="central" textLength="57.5" lengthAdjust="spacingAndGlyphs" stroke="#3c3c3c" stroke-width="0.25">视频图像信息</text>
<text x="755.5" y="161.6" font-size="9.18" fill="#3c3c3c" text-anchor="middle" font-weight="normal" dominant-baseline="central" textLength="45.9" lengthAdjust="spacingAndGlyphs" stroke="#3c3c3c" stroke-width="0.25">库服务器群</text>
<polyline points="290.0,161.5 391.6,161.5 391.6,192.0" fill="none" stroke="#f8d168" stroke-width="0.9"/>
<circle cx="367.4" cy="161.5" r="4.3" fill="#fffbe6" stroke="#f5c842" stroke-width="0.9"/>
<line x1="364.8" y1="164.1" x2="370.0" y2="158.9" stroke="#f0c030" stroke-width="0.8"/>
<circle cx="368.5" cy="160.0" r="1.1" fill="#f0b000"/>
<ellipse cx="250.0" cy="206.0" rx="19.0" ry="5.5" fill="#8d99a1"/>
<ellipse cx="300.0" cy="206.0" rx="55.0" ry="11.0" fill="#8d99a1"/>
<ellipse cx="390.0" cy="206.0" rx="95.0" ry="12.5" fill="#8d99a1"/>
<ellipse cx="470.0" cy="207.0" rx="60.0" ry="11.5" fill="#8d99a1"/>
<ellipse cx="533.0" cy="207.0" rx="19.0" ry="5.5" fill="#8d99a1"/>
<ellipse cx="250.0" cy="203.0" rx="19.0" ry="5.5" fill="#bec8cf"/>
<ellipse cx="300.0" cy="203.0" rx="55.0" ry="11.0" fill="#bec8cf"/>
<ellipse cx="390.0" cy="203.0" rx="95.0" ry="12.5" fill="#bec8cf"/>
<ellipse cx="470.0" cy="204.0" rx="60.0" ry="11.5" fill="#bec8cf"/>
<ellipse cx="533.0" cy="204.0" rx="19.0" ry="5.5" fill="#bec8cf"/>
<text x="398.5" y="204.0" font-size="15.50" fill="#222" text-anchor="middle" font-weight="normal" dominant-baseline="central" textLength="94.6" lengthAdjust="spacingAndGlyphs">公安视频专网</text>
<line x1="268.5" y1="216.0" x2="268.5" y2="331.0" stroke="#f8d168" stroke-width="0.9"/>
<line x1="512.6" y1="217.0" x2="512.6" y2="331.0" stroke="#f8d168" stroke-width="0.9"/>
<text x="306.0" y="255.3" font-size="12.90" fill="#1a7ac4" text-anchor="middle" font-weight="bold" dominant-baseline="central" textLength="64.5" lengthAdjust="spacingAndGlyphs">区县公安局</text>
<text x="305.2" y="269.6" font-size="12.92" fill="#1a7ac4" text-anchor="middle" font-weight="bold" dominant-baseline="central" textLength="51.7" lengthAdjust="spacingAndGlyphs">监控中心</text>
<rect x="37.4" y="331.2" width="291.4" height="8.6" fill="url(#busg2)"/>
<circle cx="268.5" cy="264.8" r="4.3" fill="#fffbe6" stroke="#f5c842" stroke-width="0.9"/>
<line x1="265.9" y1="267.4" x2="271.1" y2="262.2" stroke="#f0c030" stroke-width="0.8"/>
<circle cx="269.6" cy="263.3" r="1.1" fill="#f0b000"/>
<polygon points="37.4,258.0 107.7,277.7 107.7,315.0 37.4,295.3" fill="#d2d5d8" />
<polygon points="105.2,277.0 107.7,277.7 107.7,315.0 105.2,314.3" fill="#a3a8ac" />
<polygon points="37.4,258.0 105.2,277.0 105.2,281.8 37.4,262.9" fill="#33383c" />
<polygon points="37.4,256.8 107.7,276.5 107.7,278.0 37.4,258.3" fill="#f0f0f0" />
<polygon points="38.1,263.4 61.3,269.9 61.3,286.3 38.1,279.9" fill="#1b92dc" />
<polygon points="61.3,269.9 82.4,275.8 82.4,300.5 61.3,294.6" fill="#1b92dc" />
<polygon points="82.4,275.8 104.9,282.1 104.9,305.3 82.4,299.0" fill="#1b92dc" />
<polygon points="61.3,269.9 82.4,275.8 82.4,281.8 61.3,281.5" fill="#33a6ea" />
<polyline points="45.8,265.6 45.8,297.7" fill="none" stroke="#8f959a" stroke-width="0.6"/>
<polyline points="53.6,267.7 53.6,299.9" fill="none" stroke="#8f959a" stroke-width="0.6"/>
<polyline points="61.3,269.9 61.3,302.0" fill="none" stroke="#8f959a" stroke-width="0.6"/>
<polyline points="71.8,272.9 71.8,305.0" fill="none" stroke="#8f959a" stroke-width="0.6"/>
<polyline points="82.4,275.8 82.4,307.9" fill="none" stroke="#8f959a" stroke-width="0.6"/>
<polyline points="90.1,278.0 90.1,310.1" fill="none" stroke="#8f959a" stroke-width="0.6"/>
<polyline points="97.9,280.1 97.9,312.2" fill="none" stroke="#8f959a" stroke-width="0.6"/>
<polyline points="38.1,269.0 61.3,275.5" fill="none" stroke="#7fb8e0" stroke-width="0.5"/>
<polyline points="38.1,274.6 61.3,281.1" fill="none" stroke="#7fb8e0" stroke-width="0.5"/>
<polyline points="82.4,281.8 104.9,288.1" fill="none" stroke="#7fb8e0" stroke-width="0.5"/>
<polyline points="82.4,287.4 104.9,293.7" fill="none" stroke="#7fb8e0" stroke-width="0.5"/>
<polyline points="82.4,293.0 104.9,299.3" fill="none" stroke="#7fb8e0" stroke-width="0.5"/>
<polyline points="61.3,282.2 82.4,288.1" fill="none" stroke="#7fb8e0" stroke-width="0.5"/>
<line x1="111.0" y1="290.0" x2="131.3" y2="290.0" stroke="#333" stroke-width="0.7"/>
<polygon points="109.0,290.0 112.5,288.1 112.5,291.9" fill="#222" />
<line x1="111.0" y1="296.0" x2="131.3" y2="296.0" stroke="#333" stroke-width="0.7"/>
<polygon points="109.0,296.0 112.5,294.1 112.5,297.9" fill="#222" />
<line x1="111.0" y1="302.0" x2="131.3" y2="302.0" stroke="#333" stroke-width="0.7"/>
<polygon points="109.0,302.0 112.5,300.1 112.5,303.9" fill="#222" />
<text x="114.0" y="285.0" font-size="7.50" fill="#333" dominant-baseline="central" textLength="14.5" lengthAdjust="spacingAndGlyphs" style="font-family:'Liberation Serif',serif">HDMI</text>
<polygon points="132.0,276.2 154.9,283.7 166.2,277.0 143.3,269.4" fill="#5f6569" />
<polygon points="132.0,276.2 154.9,283.7 154.9,311.3 132.0,303.7" fill="#3c4145" />
<polygon points="154.9,283.7 166.2,277.0 166.2,304.5 154.9,311.3" fill="#30353a" />
<line x1="134.5" y1="282.5" x2="134.5" y2="300.4" stroke="#5a6064" stroke-width="0.6"/>
<line x1="137.1" y1="283.4" x2="137.1" y2="301.3" stroke="#5a6064" stroke-width="0.6"/>
<line x1="139.6" y1="284.2" x2="139.6" y2="302.1" stroke="#5a6064" stroke-width="0.6"/>
<line x1="142.2" y1="285.0" x2="142.2" y2="303.0" stroke="#5a6064" stroke-width="0.6"/>
<line x1="144.7" y1="285.9" x2="144.7" y2="303.8" stroke="#5a6064" stroke-width="0.6"/>
<line x1="147.3" y1="286.7" x2="147.3" y2="304.6" stroke="#5a6064" stroke-width="0.6"/>
<line x1="149.8" y1="287.6" x2="149.8" y2="305.5" stroke="#5a6064" stroke-width="0.6"/>
<line x1="152.4" y1="288.4" x2="152.4" y2="306.3" stroke="#5a6064" stroke-width="0.6"/>
<line x1="133.0" y1="280.3" x2="153.9" y2="287.9" stroke="#2c3034" stroke-width="0.6"/>
<line x1="133.0" y1="301.0" x2="153.9" y2="308.5" stroke="#2c3034" stroke-width="0.6"/>
<polygon points="141.2,281.4 146.2,283.1 146.2,284.7 141.2,283.0" fill="#2a9ae0"/>
<polyline points="149.5,266.0 149.5,254.4 190.0,254.4" fill="none" stroke="#f8d168" stroke-width="0.9"/>
<polygon points="149.5,268.5 147.8,265.5 151.2,265.5" fill="#e0b020" />
<circle cx="175.3" cy="254.4" r="4.3" fill="#fffbe6" stroke="#f5c842" stroke-width="0.9"/>
<line x1="172.7" y1="257.0" x2="177.9" y2="251.8" stroke="#f0c030" stroke-width="0.8"/>
<circle cx="176.4" cy="252.9" r="1.1" fill="#f0b000"/>
<polyline points="158.3,270.0 158.3,266.3 190.0,266.3" fill="none" stroke="#333" stroke-width="0.8"/>
<polygon points="158.3,273.4 156.5,270.2 160.1,270.2" fill="#222" />
<circle cx="174.1" cy="266.3" r="3.4" fill="#ffffff" stroke="#333" stroke-width="0.8"/>
<line x1="169.7" y1="269.7" x2="178.5" y2="269.7" stroke="#333" stroke-width="0.8"/>
<text x="220.1" y="254.4" font-size="7.40" fill="#3c3c3c" text-anchor="middle" font-weight="normal" dominant-baseline="central" textLength="58.7" lengthAdjust="spacingAndGlyphs" stroke="#3c3c3c" stroke-width="0.25">高清数字视频接入</text>
<text x="212.6" y="266.3" font-size="7.40" fill="#3c3c3c" text-anchor="middle" font-weight="normal" dominant-baseline="central" textLength="43.8" lengthAdjust="spacingAndGlyphs" stroke="#3c3c3c" stroke-width="0.25">模拟图像接入</text>
<polygon points="205.4,293.8 207.8,294.2 207.8,297.0 205.4,296.8" fill="#7d8388" />
<polygon points="200.6,297.0 208.6,296.4 213.6,299.0 205.6,299.8" fill="#a4aaae" />
<polygon points="198.2,275.1 216.8,281.8 216.8,298.5 198.2,291.8" fill="#4a4f53" />
<polygon points="199.3,276.6 215.7,282.9 215.7,297.2 199.3,290.7" fill="#0f8ad2" />
<polygon points="199.3,276.6 215.7,282.9 215.7,288.3 199.3,284.1" fill="#27a9ee" />
<polygon points="224.6,300.8 227.0,301.2 227.0,304.0 224.6,303.8" fill="#7d8388" />
<polygon points="219.8,304.0 227.8,303.4 232.8,306.0 224.8,306.8" fill="#a4aaae" />
<polygon points="217.4,282.0 236.1,288.7 236.1,305.4 217.4,298.7" fill="#4a4f53" />
<polygon points="218.5,283.5 235.0,289.8 235.0,304.1 218.5,297.6" fill="#0f8ad2" />
<polygon points="218.5,283.5 235.0,289.8 235.0,295.2 218.5,291.0" fill="#27a9ee" />
<polygon points="235.5,289.1 242.2,290.8 251.6,286.6 244.8,284.9" fill="#a3a8ac" />
<polygon points="235.5,289.1 242.2,290.8 242.2,309.5 235.5,307.8" fill="#858a8e" />
<polygon points="242.2,290.8 251.6,286.6 251.6,305.3 242.2,309.5" fill="#45494d" />
<rect x="236.0" y="292.1" width="5.2" height="1.0" rx="0" fill="#6a6f73" />
<circle cx="240.2" cy="300.1" r="0.7" fill="#e0b030"/>
<line x1="205.3" y1="298.0" x2="205.3" y2="331.0" stroke="#6cc28a" stroke-width="0.8"/>
<line x1="141.7" y1="311.0" x2="141.7" y2="360.0" stroke="#6cc28a" stroke-width="0.8"/>
<line x1="75.0" y1="340.0" x2="75.0" y2="362.0" stroke="#6cc28a" stroke-width="0.8"/>
<line x1="268.5" y1="340.0" x2="268.5" y2="388.0" stroke="#6cc28a" stroke-width="0.8"/>
<polygon points="53.3,374.7 77.8,381.1 95.5,373.1 71.0,366.7" fill="#4d5358" />
<polygon points="53.3,374.7 77.8,381.1 77.8,386.4 53.3,380.0" fill="#3a3f43" />
<polygon points="77.8,381.1 95.5,373.1 95.5,378.4 77.8,386.4" fill="#2c3033" />
<line x1="54.3" y1="377.5" x2="76.8" y2="383.9" stroke="#5d6368" stroke-width="0.5"/>
<polygon points="54.8,368.0 79.3,374.3 97.0,366.4 72.5,360.0" fill="#585e62" />
<polygon points="54.8,368.0 79.3,374.3 79.3,379.9 54.8,373.6" fill="#3e4347" />
<polygon points="79.3,374.3 97.0,366.4 97.0,372.0 79.3,379.9" fill="#30353a" />
<polygon points="63.2,367.7 77.9,371.5 88.6,366.7 73.9,362.9" fill="none" stroke="#7e8489" stroke-width="0.5" />
<ellipse cx="75.9" cy="367.2" rx="3.2" ry="2.1" fill="#aeb3b7" stroke="#eef0f1" stroke-width="0.7"/>
<path d="M74.2,367.2 Q75.9,365.1 77.6,367.2" fill="none" stroke="#f4f4f4" stroke-width="0.6"/>
<circle cx="58.5" cy="371.7" r="0.6" fill="#d9a040"/>
<circle cx="76.8" cy="377.1" r="0.6" fill="#d9a040"/>
<polygon points="125.5,378.9 145.8,385.4 161.1,378.5 140.9,372.0" fill="#454b4f" />
<polygon points="125.5,378.9 145.8,385.4 145.8,393.9 125.5,387.4" fill="#6a7074" />
<polygon points="145.8,385.4 161.1,378.5 161.1,387.0 145.8,393.9" fill="#33383c" />
<line x1="126.5" y1="381.1" x2="144.8" y2="387.5" stroke="#8e9498" stroke-width="0.5"/>
<line x1="126.5" y1="383.2" x2="144.8" y2="389.7" stroke="#8e9498" stroke-width="0.5"/>
<line x1="126.5" y1="385.3" x2="144.8" y2="391.8" stroke="#8e9498" stroke-width="0.5"/>
<polygon points="128.5,366.9 148.8,373.4 164.1,366.5 143.9,360.0" fill="#484e52" />
<polygon points="128.5,366.9 148.8,373.4 148.8,381.9 128.5,375.4" fill="#6c7276" />
<polygon points="148.8,373.4 164.1,366.5 164.1,375.0 148.8,381.9" fill="#353a3e" />
<line x1="129.5" y1="369.1" x2="147.8" y2="375.5" stroke="#90969a" stroke-width="0.5"/>
<line x1="129.5" y1="371.2" x2="147.8" y2="377.7" stroke="#90969a" stroke-width="0.5"/>
<line x1="129.5" y1="373.3" x2="147.8" y2="379.8" stroke="#90969a" stroke-width="0.5"/>
<polygon points="254.0,391.4 275.6,398.3 286.3,392.5 264.7,385.6" fill="#5a5f63" />
<polygon points="254.0,391.4 275.6,398.3 275.6,422.0 254.0,415.1" fill="#5b6165" />
<polygon points="275.6,398.3 286.3,392.5 286.3,416.2 275.6,422.0" fill="#34393d" />
<polygon points="254.0,408.4 275.6,415.4 275.6,422.0 254.0,415.1" fill="#3e4347" />
<line x1="255.5" y1="398.5" x2="274.1" y2="405.4" stroke="#7d8387" stroke-width="0.7"/>
<line x1="255.5" y1="402.0" x2="274.1" y2="409.0" stroke="#7d8387" stroke-width="0.7"/>
<line x1="255.5" y1="405.6" x2="274.1" y2="412.5" stroke="#7d8387" stroke-width="0.7"/>
<line x1="254.8" y1="392.4" x2="254.8" y2="408.4" stroke="#3a3f43" stroke-width="1.2"/>
<line x1="264.7" y1="391.9" x2="275.6" y2="391.9" stroke="#f2f2f2" stroke-width="1.1"/>
<line x1="267.4" y1="389.5" x2="272.9" y2="394.4" stroke="#f2f2f2" stroke-width="1.1"/>
<circle cx="264.7" cy="391.9" r="1" fill="#f2f2f2"/>
<circle cx="275.6" cy="391.9" r="1" fill="#f2f2f2"/>
<circle cx="267.4" cy="389.5" r="1" fill="#f2f2f2"/>
<circle cx="272.9" cy="394.4" r="1" fill="#f2f2f2"/>
<text x="57.1" y="315.0" font-size="9.65" fill="#3c3c3c" text-anchor="middle" font-weight="normal" dominant-baseline="central" textLength="48.3" lengthAdjust="spacingAndGlyphs" stroke="#3c3c3c" stroke-width="0.25">拼接电视墙</text>
<text x="152.0" y="322.0" font-size="9.49" fill="#3c3c3c" text-anchor="middle" font-weight="normal" dominant-baseline="central" textLength="56.9" lengthAdjust="spacingAndGlyphs" stroke="#3c3c3c" stroke-width="0.25">视频综合平台</text>
<text x="235.3" y="321.3" font-size="9.61" fill="#3c3c3c" text-anchor="middle" font-weight="normal" dominant-baseline="central" textLength="57.7" lengthAdjust="spacingAndGlyphs" stroke="#3c3c3c" stroke-width="0.25">监控管理终端</text>
<text x="70.9" y="402.0" font-size="9.65" fill="#3c3c3c" text-anchor="middle" font-weight="normal" dominant-baseline="central" textLength="77.2" lengthAdjust="spacingAndGlyphs" stroke="#3c3c3c" stroke-width="0.25">共享平台服务器群</text>
<text x="146.7" y="402.0" font-size="9.69" fill="#3c3c3c" text-anchor="middle" font-weight="normal" dominant-baseline="central" textLength="38.8" lengthAdjust="spacingAndGlyphs" stroke="#3c3c3c" stroke-width="0.25">存储设备</text>
<text x="224.9" y="403.0" font-size="9.49" fill="#3c3c3c" text-anchor="middle" font-weight="normal" dominant-baseline="central" textLength="47.4" lengthAdjust="spacingAndGlyphs" stroke="#3c3c3c" stroke-width="0.25">汇聚交换机</text>
<rect x="356.6" y="266" width="114.2" height="98.8" rx="9" fill="#ffffff" stroke="#444" stroke-width="1"/>
<text x="370.0" y="273.5" font-size="9.80" fill="#3c3c3c" text-anchor="start" font-weight="normal" dominant-baseline="central" letter-spacing="0">图例标注:</text>
<line x1="360.7" y1="282.0" x2="462.0" y2="282.0" stroke="#9a9a9a" stroke-width="1.5"/>
<line x1="368.0" y1="290.0" x2="409.0" y2="290.0" stroke="#f8d168" stroke-width="0.9"/>
<circle cx="388.6" cy="290.0" r="4" fill="#fffbe6" stroke="#f5c842" stroke-width="0.9"/>
<line x1="386.2" y1="292.4" x2="391.0" y2="287.6" stroke="#f0c030" stroke-width="0.8"/>
<circle cx="389.6" cy="288.6" r="1.1" fill="#f0b000"/>
<text x="435.9" y="290.0" font-size="9.69" fill="#3c3c3c" text-anchor="middle" font-weight="normal" dominant-baseline="central" textLength="38.8" lengthAdjust="spacingAndGlyphs" stroke="#3c3c3c" stroke-width="0.25">光纤传输</text>
<line x1="368.0" y1="301.2" x2="409.0" y2="301.2" stroke="#6cc28a" stroke-width="0.9"/>
<text x="437.8" y="301.2" font-size="9.29" fill="#3c3c3c" text-anchor="middle" font-weight="normal" dominant-baseline="central" textLength="46.4" lengthAdjust="spacingAndGlyphs" stroke="#3c3c3c" stroke-width="0.25">以太网电缆</text>
<line x1="368.0" y1="312.0" x2="407.0" y2="312.0" stroke="#222" stroke-width="0.8"/>
<circle cx="386.0" cy="312.0" r="3.3" fill="#ffffff" stroke="#333" stroke-width="0.8"/>
<line x1="381.7" y1="315.3" x2="390.3" y2="315.3" stroke="#333" stroke-width="0.8"/>
<polygon points="409.0,312.0 405.5,310.1 405.5,313.9" fill="#222" />
<text x="436.0" y="312.0" font-size="9.74" fill="#3c3c3c" text-anchor="middle" font-weight="normal" dominant-baseline="central" textLength="39.0" lengthAdjust="spacingAndGlyphs" stroke="#3c3c3c" stroke-width="0.25">同轴电缆</text>
<text x="379.5" y="324.0" font-size="7.00" fill="#333" dominant-baseline="central" textLength="15.1" lengthAdjust="spacingAndGlyphs" style="font-family:'Liberation Serif',serif">HDMI</text>
<line x1="368.0" y1="327.0" x2="407.0" y2="327.0" stroke="#555" stroke-width="0.9"/>
<polygon points="409.0,327.0 405.5,325.1 405.5,328.9" fill="#222" />
<text x="419.0" y="327.0" font-size="9.50" fill="#3c3c3c" text-anchor="start" font-weight="normal" dominant-baseline="central" letter-spacing="0" style="font-family:'Liberation Serif',serif">HDMI线缆</text>
<text x="382.0" y="337.5" font-size="7.00" fill="#333" text-anchor="start" font-weight="normal" dominant-baseline="central" letter-spacing="0" style="font-family:'Liberation Serif',serif">I/O</text>
<line x1="368.0" y1="341.7" x2="409.0" y2="341.7" stroke="#ef6a6a" stroke-width="0.8" stroke-dasharray="2.5,2"/>
<text x="421.0" y="341.7" font-size="9.50" fill="#3c3c3c" text-anchor="start" font-weight="normal" dominant-baseline="central" letter-spacing="0" style="font-family:'Liberation Serif',serif">I/O线缆</text>
<polygon points="368.0,356.5 391.0,356.3 385.5,353.4 408.5,352.6 408.5,351.6 382.0,351.1 387.5,354.2 368.0,355.4" fill="#ece21a" stroke="#5a5a40" stroke-width="0.45" />
<text x="436.5" y="354.5" font-size="8.97" fill="#3c3c3c" text-anchor="middle" font-weight="normal" dominant-baseline="central" textLength="35.9" lengthAdjust="spacingAndGlyphs" stroke="#3c3c3c" stroke-width="0.25">无线传输</text>
<text x="525.2" y="254.7" font-size="12.88" fill="#1a7ac4" text-anchor="middle" font-weight="bold" dominant-baseline="central" textLength="64.4" lengthAdjust="spacingAndGlyphs">区县公安局</text>
<text x="525.2" y="269.3" font-size="12.92" fill="#1a7ac4" text-anchor="middle" font-weight="bold" dominant-baseline="central" textLength="51.7" lengthAdjust="spacingAndGlyphs">监控中心</text>
<rect x="495.4" y="331.0" width="288.1" height="9.0" fill="url(#busg2)"/>
<circle cx="512.6" cy="292.5" r="4.3" fill="#fffbe6" stroke="#f5c842" stroke-width="0.9"/>
<line x1="510.0" y1="295.1" x2="515.2" y2="289.9" stroke="#f0c030" stroke-width="0.8"/>
<circle cx="513.7" cy="291.0" r="1.1" fill="#f0b000"/>
<polygon points="551.2,296.8 553.6,297.2 553.6,300.0 551.2,299.8" fill="#7d8388" />
<polygon points="546.4,300.0 554.4,299.4 559.4,302.0 551.4,302.8" fill="#a4aaae" />
<polygon points="544.0,278.0 562.7,284.7 562.7,301.5 544.0,294.8" fill="#4a4f53" />
<polygon points="545.1,279.5 561.6,285.8 561.6,300.2 545.1,293.7" fill="#0f8ad2" />
<polygon points="545.1,279.5 561.6,285.8 561.6,291.2 545.1,287.1" fill="#27a9ee" />
<polygon points="570.5,303.8 572.9,304.2 572.9,307.0 570.5,306.8" fill="#7d8388" />
<polygon points="565.7,307.0 573.7,306.4 578.7,309.0 570.7,309.8" fill="#a4aaae" />
<polygon points="563.3,285.0 582.0,291.7 582.0,308.5 563.3,301.8" fill="#4a4f53" />
<polygon points="564.4,286.5 580.9,292.8 580.9,307.2 564.4,300.7" fill="#0f8ad2" />
<polygon points="564.4,286.5 580.9,292.8 580.9,298.2 564.4,294.0" fill="#27a9ee" />
<polygon points="581.4,292.1 588.2,293.8 597.6,289.6 590.8,287.9" fill="#a3a8ac" />
<polygon points="581.4,292.1 588.2,293.8 588.2,312.6 581.4,310.9" fill="#858a8e" />
<polygon points="588.2,293.8 597.6,289.6 597.6,308.4 588.2,312.6" fill="#45494d" />
<rect x="581.9" y="295.1" width="5.2" height="1.0" rx="0" fill="#6a6f73" />
<circle cx="586.1" cy="303.2" r="0.7" fill="#e0b030"/>
<line x1="551.6" y1="300.0" x2="551.6" y2="386.0" stroke="#6cc28a" stroke-width="0.8"/>
<polyline points="630.0,253.0 670.0,253.0 670.0,265.0" fill="none" stroke="#f8d168" stroke-width="0.9"/>
<polygon points="670.0,267.5 668.4,264.5 671.6,264.5" fill="#e0b020" />
<circle cx="647.4" cy="253.0" r="4.3" fill="#fffbe6" stroke="#f5c842" stroke-width="0.9"/>
<line x1="644.8" y1="255.6" x2="650.0" y2="250.4" stroke="#f0c030" stroke-width="0.8"/>
<circle cx="648.5" cy="251.5" r="1.1" fill="#f0b000"/>
<polyline points="630.0,264.7 662.4,264.7 662.4,269.0" fill="none" stroke="#333" stroke-width="0.8"/>
<polygon points="662.4,272.0 660.6,268.8 664.2,268.8" fill="#222" />
<circle cx="646.0" cy="264.7" r="3.4" fill="#ffffff" stroke="#333" stroke-width="0.8"/>
<line x1="641.6" y1="268.1" x2="650.4" y2="268.1" stroke="#333" stroke-width="0.8"/>
<text x="600.6" y="253.6" font-size="7.40" fill="#3c3c3c" text-anchor="middle" font-weight="normal" dominant-baseline="central" textLength="59.4" lengthAdjust="spacingAndGlyphs" stroke="#3c3c3c" stroke-width="0.25">高清数字视频接入</text>
<text x="607.6" y="264.7" font-size="7.40" fill="#3c3c3c" text-anchor="middle" font-weight="normal" dominant-baseline="central" textLength="45.6" lengthAdjust="spacingAndGlyphs" stroke="#3c3c3c" stroke-width="0.25">模拟图像接入</text>
<polygon points="658.3,275.6 682.1,283.5 693.8,276.4 670.0,268.6" fill="#5f6569" />
<polygon points="658.3,275.6 682.1,283.5 682.1,310.4 658.3,302.6" fill="#3c4145" />
<polygon points="682.1,283.5 693.8,276.4 693.8,303.4 682.1,310.4" fill="#30353a" />
<line x1="660.9" y1="281.9" x2="660.9" y2="299.4" stroke="#5a6064" stroke-width="0.6"/>
<line x1="663.6" y1="282.8" x2="663.6" y2="300.3" stroke="#5a6064" stroke-width="0.6"/>
<line x1="666.2" y1="283.6" x2="666.2" y2="301.1" stroke="#5a6064" stroke-width="0.6"/>
<line x1="668.9" y1="284.5" x2="668.9" y2="302.0" stroke="#5a6064" stroke-width="0.6"/>
<line x1="671.5" y1="285.4" x2="671.5" y2="302.9" stroke="#5a6064" stroke-width="0.6"/>
<line x1="674.2" y1="286.2" x2="674.2" y2="303.7" stroke="#5a6064" stroke-width="0.6"/>
<line x1="676.8" y1="287.1" x2="676.8" y2="304.6" stroke="#5a6064" stroke-width="0.6"/>
<line x1="679.4" y1="288.0" x2="679.4" y2="305.5" stroke="#5a6064" stroke-width="0.6"/>
<line x1="659.3" y1="279.7" x2="681.1" y2="287.5" stroke="#2c3034" stroke-width="0.6"/>
<line x1="659.3" y1="299.9" x2="681.1" y2="307.7" stroke="#2c3034" stroke-width="0.6"/>
<polygon points="667.8,280.9 673.0,282.6 673.0,284.2 667.8,282.5" fill="#2a9ae0"/>
<line x1="694.0" y1="284.9" x2="715.0" y2="284.9" stroke="#333" stroke-width="0.7"/>
<polygon points="717.4,284.9 713.9,283.0 713.9,286.8" fill="#222" />
<line x1="694.0" y1="290.7" x2="715.0" y2="290.7" stroke="#333" stroke-width="0.7"/>
<polygon points="717.4,290.7 713.9,288.8 713.9,292.6" fill="#222" />
<line x1="694.0" y1="297.2" x2="715.0" y2="297.2" stroke="#333" stroke-width="0.7"/>
<polygon points="717.4,297.2 713.9,295.3 713.9,299.1" fill="#222" />
<text x="695.7" y="279.5" font-size="7.50" fill="#333" dominant-baseline="central" textLength="14.6" lengthAdjust="spacingAndGlyphs" style="font-family:'Liberation Serif',serif">HDMI</text>
<polygon points="718.6,269.8 789.3,289.4 789.3,326.6 718.6,307.0" fill="#d2d5d8" />
<polygon points="786.8,288.7 789.3,289.4 789.3,326.6 786.8,325.9" fill="#a3a8ac" />
<polygon points="718.6,269.8 786.8,288.7 786.8,293.5 718.6,274.6" fill="#33383c" />
<polygon points="718.6,268.6 789.3,288.2 789.3,289.7 718.6,270.1" fill="#f0f0f0" />
<polygon points="719.3,275.2 742.6,281.7 742.6,298.0 719.3,291.6" fill="#1b92dc" />
<polygon points="742.6,281.7 763.8,287.6 763.8,312.1 742.6,306.2" fill="#1b92dc" />
<polygon points="763.8,287.6 786.5,293.8 786.5,316.9 763.8,310.6" fill="#1b92dc" />
<polygon points="742.6,281.7 763.8,287.6 763.8,293.5 742.6,293.2" fill="#33a6ea" />
<polyline points="727.1,277.4 727.1,309.4" fill="none" stroke="#8f959a" stroke-width="0.6"/>
<polyline points="734.9,279.5 734.9,311.5" fill="none" stroke="#8f959a" stroke-width="0.6"/>
<polyline points="742.6,281.7 742.6,313.7" fill="none" stroke="#8f959a" stroke-width="0.6"/>
<polyline points="753.2,284.6 753.2,316.6" fill="none" stroke="#8f959a" stroke-width="0.6"/>
<polyline points="763.8,287.6 763.8,319.5" fill="none" stroke="#8f959a" stroke-width="0.6"/>
<polyline points="771.6,289.7 771.6,321.7" fill="none" stroke="#8f959a" stroke-width="0.6"/>
<polyline points="779.4,291.9 779.4,323.9" fill="none" stroke="#8f959a" stroke-width="0.6"/>
<polyline points="719.3,280.8 742.6,287.3" fill="none" stroke="#7fb8e0" stroke-width="0.5"/>
<polyline points="719.3,286.4 742.6,292.8" fill="none" stroke="#7fb8e0" stroke-width="0.5"/>
<polyline points="763.8,293.5 786.5,299.8" fill="none" stroke="#7fb8e0" stroke-width="0.5"/>
<polyline points="763.8,299.1 786.5,305.4" fill="none" stroke="#7fb8e0" stroke-width="0.5"/>
<polyline points="763.8,304.7 786.5,310.9" fill="none" stroke="#7fb8e0" stroke-width="0.5"/>
<polyline points="742.6,293.9 763.8,299.8" fill="none" stroke="#7fb8e0" stroke-width="0.5"/>
<line x1="669.4" y1="310.0" x2="669.4" y2="360.0" stroke="#6cc28a" stroke-width="0.8"/>
<line x1="751.8" y1="340.0" x2="751.8" y2="362.0" stroke="#6cc28a" stroke-width="0.8"/>
<polygon points="652.5,379.1 673.1,385.7 688.8,378.6 668.2,372.0" fill="#454b4f" />
<polygon points="652.5,379.1 673.1,385.7 673.1,394.2 652.5,387.6" fill="#6a7074" />
<polygon points="673.1,385.7 688.8,378.6 688.8,387.1 673.1,394.2" fill="#33383c" />
<line x1="653.5" y1="381.2" x2="672.1" y2="387.8" stroke="#8e9498" stroke-width="0.5"/>
<line x1="653.5" y1="383.3" x2="672.1" y2="389.9" stroke="#8e9498" stroke-width="0.5"/>
<line x1="653.5" y1="385.4" x2="672.1" y2="392.0" stroke="#8e9498" stroke-width="0.5"/>
<polygon points="655.5,367.1 676.1,373.7 691.8,366.6 671.2,360.0" fill="#484e52" />
<polygon points="655.5,367.1 676.1,373.7 676.1,382.2 655.5,375.6" fill="#6c7276" />
<polygon points="676.1,373.7 691.8,366.6 691.8,375.1 676.1,382.2" fill="#353a3e" />
<line x1="656.5" y1="369.2" x2="675.1" y2="375.8" stroke="#90969a" stroke-width="0.5"/>
<line x1="656.5" y1="371.3" x2="675.1" y2="377.9" stroke="#90969a" stroke-width="0.5"/>
<line x1="656.5" y1="373.4" x2="675.1" y2="380.0" stroke="#90969a" stroke-width="0.5"/>
<polygon points="731.5,374.2 755.3,380.4 772.5,372.7 748.7,366.5" fill="#4d5358" />
<polygon points="731.5,374.2 755.3,380.4 755.3,385.5 731.5,379.4" fill="#3a3f43" />
<polygon points="755.3,380.4 772.5,372.7 772.5,377.8 755.3,385.5" fill="#2c3033" />
<line x1="732.5" y1="376.9" x2="754.3" y2="383.1" stroke="#5d6368" stroke-width="0.5"/>
<polygon points="733.0,367.7 756.8,373.9 774.0,366.2 750.2,360.0" fill="#585e62" />
<polygon points="733.0,367.7 756.8,373.9 756.8,379.3 733.0,373.1" fill="#3e4347" />
<polygon points="756.8,373.9 774.0,366.2 774.0,371.6 756.8,379.3" fill="#30353a" />
<polygon points="741.2,367.4 755.5,371.1 765.8,366.5 751.5,362.8" fill="none" stroke="#7e8489" stroke-width="0.5" />
<ellipse cx="753.5" cy="367.0" rx="3.1" ry="2.1" fill="#aeb3b7" stroke="#eef0f1" stroke-width="0.7"/>
<path d="M751.9,367.0 Q753.5,364.9 755.1,367.0" fill="none" stroke="#f4f4f4" stroke-width="0.6"/>
<circle cx="736.6" cy="371.4" r="0.6" fill="#d9a040"/>
<circle cx="754.3" cy="376.6" r="0.6" fill="#d9a040"/>
<polygon points="536.5,391.9 558.7,399.0 569.7,393.1 547.5,386.0" fill="#5a5f63" />
<polygon points="536.5,391.9 558.7,399.0 558.7,421.8 536.5,414.7" fill="#5b6165" />
<polygon points="558.7,399.0 569.7,393.1 569.7,415.9 558.7,421.8" fill="#34393d" />
<polygon points="536.5,408.3 558.7,415.4 558.7,421.8 536.5,414.7" fill="#3e4347" />
<line x1="538.0" y1="398.7" x2="557.2" y2="405.9" stroke="#7d8387" stroke-width="0.7"/>
<line x1="538.0" y1="402.2" x2="557.2" y2="409.3" stroke="#7d8387" stroke-width="0.7"/>
<line x1="538.0" y1="405.6" x2="557.2" y2="412.7" stroke="#7d8387" stroke-width="0.7"/>
<line x1="537.3" y1="392.9" x2="537.3" y2="408.3" stroke="#3a3f43" stroke-width="1.2"/>
<line x1="547.5" y1="392.5" x2="558.7" y2="392.5" stroke="#f2f2f2" stroke-width="1.1"/>
<line x1="550.3" y1="390.0" x2="555.9" y2="395.1" stroke="#f2f2f2" stroke-width="1.1"/>
<circle cx="547.5" cy="392.5" r="1" fill="#f2f2f2"/>
<circle cx="558.7" cy="392.5" r="1" fill="#f2f2f2"/>
<circle cx="550.3" cy="390.0" r="1" fill="#f2f2f2"/>
<circle cx="555.9" cy="395.1" r="1" fill="#f2f2f2"/>
<text x="767.9" y="269.8" font-size="9.73" fill="#3c3c3c" text-anchor="middle" font-weight="normal" dominant-baseline="central" textLength="48.7" lengthAdjust="spacingAndGlyphs" stroke="#3c3c3c" stroke-width="0.25">拼接电视墙</text>
<text x="678.5" y="322.0" font-size="9.66" fill="#3c3c3c" text-anchor="middle" font-weight="normal" dominant-baseline="central" textLength="58.0" lengthAdjust="spacingAndGlyphs" stroke="#3c3c3c" stroke-width="0.25">视频综合平台</text>
<text x="581.2" y="322.0" font-size="9.64" fill="#3c3c3c" text-anchor="middle" font-weight="normal" dominant-baseline="central" textLength="57.9" lengthAdjust="spacingAndGlyphs" stroke="#3c3c3c" stroke-width="0.25">监控管理终端</text>
<text x="673.6" y="402.5" font-size="9.64" fill="#3c3c3c" text-anchor="middle" font-weight="normal" dominant-baseline="central" textLength="38.6" lengthAdjust="spacingAndGlyphs" stroke="#3c3c3c" stroke-width="0.25">存储设备</text>
<text x="751.0" y="402.5" font-size="9.83" fill="#3c3c3c" text-anchor="middle" font-weight="normal" dominant-baseline="central" textLength="59.0" lengthAdjust="spacingAndGlyphs" stroke="#3c3c3c" stroke-width="0.25">平台服务器群</text>
<text x="595.5" y="403.0" font-size="9.57" fill="#3c3c3c" text-anchor="middle" font-weight="normal" dominant-baseline="central" textLength="47.9" lengthAdjust="spacingAndGlyphs" stroke="#3c3c3c" stroke-width="0.25">汇聚交换机</text>
<polyline points="286.0,401.2 371.4,401.2 371.4,472.0" fill="none" stroke="#f8d168" stroke-width="0.9"/>
<polyline points="536.0,401.2 453.0,401.2 453.0,472.0" fill="none" stroke="#f8d168" stroke-width="0.9"/>
<circle cx="371.4" cy="435.5" r="4.3" fill="#fffbe6" stroke="#f5c842" stroke-width="0.9"/>
<line x1="368.8" y1="438.1" x2="374.0" y2="432.9" stroke="#f0c030" stroke-width="0.8"/>
<circle cx="372.5" cy="434.0" r="1.1" fill="#f0b000"/>
<circle cx="453.0" cy="435.5" r="4.3" fill="#fffbe6" stroke="#f5c842" stroke-width="0.9"/>
<line x1="450.4" y1="438.1" x2="455.6" y2="432.9" stroke="#f0c030" stroke-width="0.8"/>
<circle cx="454.1" cy="434.0" r="1.1" fill="#f0b000"/>
<polyline points="335.0,495.5 278.0,495.5 278.0,582.7 218.0,582.7" fill="none" stroke="#f8d168" stroke-width="0.9"/>
<polyline points="335.0,500.0 335.0,601.0 80.6,601.0 80.6,680.0" fill="none" stroke="#f8d168" stroke-width="0.9"/>
<polyline points="359.3,500.0 359.3,616.5 186.0,616.5 186.0,680.0" fill="none" stroke="#f8d168" stroke-width="0.9"/>
<line x1="383.8" y1="500.0" x2="383.8" y2="680.8" stroke="#f8d168" stroke-width="0.9"/>
<line x1="420.7" y1="500.0" x2="420.7" y2="680.6" stroke="#f8d168" stroke-width="0.9"/>
<polyline points="464.9,500.0 464.9,601.0 546.0,601.0" fill="none" stroke="#f8d168" stroke-width="0.9"/>
<polyline points="490.0,495.5 542.0,495.5 542.0,582.6 590.0,582.6" fill="none" stroke="#f8d168" stroke-width="0.9"/>
<polyline points="563.0,601.0 676.2,601.0 676.2,680.7" fill="none" stroke="#f8d168" stroke-width="0.9"/>
<circle cx="278.0" cy="535.7" r="4.3" fill="#fffbe6" stroke="#f5c842" stroke-width="0.9"/>
<line x1="275.4" y1="538.3" x2="280.6" y2="533.1" stroke="#f0c030" stroke-width="0.8"/>
<circle cx="279.1" cy="534.2" r="1.1" fill="#f0b000"/>
<circle cx="335.0" cy="554.6" r="4.3" fill="#fffbe6" stroke="#f5c842" stroke-width="0.9"/>
<line x1="332.4" y1="557.2" x2="337.6" y2="552.0" stroke="#f0c030" stroke-width="0.8"/>
<circle cx="336.1" cy="553.1" r="1.1" fill="#f0b000"/>
<circle cx="359.3" cy="570.6" r="4.3" fill="#fffbe6" stroke="#f5c842" stroke-width="0.9"/>
<line x1="356.7" y1="573.2" x2="361.9" y2="568.0" stroke="#f0c030" stroke-width="0.8"/>
<circle cx="360.4" cy="569.1" r="1.1" fill="#f0b000"/>
<circle cx="383.8" cy="583.5" r="4.3" fill="#fffbe6" stroke="#f5c842" stroke-width="0.9"/>
<line x1="381.2" y1="586.1" x2="386.4" y2="580.9" stroke="#f0c030" stroke-width="0.8"/>
<circle cx="384.9" cy="582.0" r="1.1" fill="#f0b000"/>
<circle cx="420.7" cy="583.5" r="4.3" fill="#fffbe6" stroke="#f5c842" stroke-width="0.9"/>
<line x1="418.1" y1="586.1" x2="423.3" y2="580.9" stroke="#f0c030" stroke-width="0.8"/>
<circle cx="421.8" cy="582.0" r="1.1" fill="#f0b000"/>
<circle cx="464.9" cy="568.6" r="4.3" fill="#fffbe6" stroke="#f5c842" stroke-width="0.9"/>
<line x1="462.3" y1="571.2" x2="467.5" y2="566.0" stroke="#f0c030" stroke-width="0.8"/>
<circle cx="466.0" cy="567.1" r="1.1" fill="#f0b000"/>
<circle cx="542.0" cy="540.5" r="4.3" fill="#fffbe6" stroke="#f5c842" stroke-width="0.9"/>
<line x1="539.4" y1="543.1" x2="544.6" y2="537.9" stroke="#f0c030" stroke-width="0.8"/>
<circle cx="543.1" cy="539.0" r="1.1" fill="#f0b000"/>
<circle cx="622.5" cy="601.0" r="4.3" fill="#fffbe6" stroke="#f5c842" stroke-width="0.9"/>
<line x1="619.9" y1="603.6" x2="625.1" y2="598.4" stroke="#f0c030" stroke-width="0.8"/>
<circle cx="623.6" cy="599.5" r="1.1" fill="#f0b000"/>
<ellipse cx="340.0" cy="498.0" rx="20.0" ry="10.5" fill="#8d99a1"/>
<ellipse cx="375.0" cy="496.0" rx="42.0" ry="18.5" fill="#8d99a1"/>
<ellipse cx="408.0" cy="495.0" rx="40.0" ry="18.0" fill="#8d99a1"/>
<ellipse cx="440.0" cy="498.0" rx="40.0" ry="18.0" fill="#8d99a1"/>
<ellipse cx="402.0" cy="509.0" rx="62.0" ry="19.5" fill="#8d99a1"/>
<ellipse cx="479.0" cy="504.0" rx="28.0" ry="13.0" fill="#8d99a1"/>
<ellipse cx="340.0" cy="492.0" rx="20.0" ry="10.5" fill="#bec8cf"/>
<ellipse cx="375.0" cy="490.0" rx="42.0" ry="18.5" fill="#bec8cf"/>
<ellipse cx="408.0" cy="489.0" rx="40.0" ry="18.0" fill="#bec8cf"/>
<ellipse cx="440.0" cy="492.0" rx="40.0" ry="18.0" fill="#bec8cf"/>
<ellipse cx="402.0" cy="503.0" rx="62.0" ry="19.5" fill="#bec8cf"/>
<ellipse cx="479.0" cy="498.0" rx="28.0" ry="13.0" fill="#bec8cf"/>
<text x="406.5" y="493.5" font-size="16.00" fill="#222" text-anchor="middle" font-weight="normal" dominant-baseline="central" textLength="95.9" lengthAdjust="spacingAndGlyphs">公安视频专网</text>
<text x="197.3" y="445.5" font-size="13.00" fill="#1a7ac4" text-anchor="middle" font-weight="bold" dominant-baseline="central" textLength="91.0" lengthAdjust="spacingAndGlyphs">派出所分控中心</text>
<rect x="38.7" y="507.8" width="188.5" height="9.0" fill="url(#busg2)"/>
<polygon points="44.5,441.0 74.4,449.3 74.4,481.5 44.5,473.0" fill="#cdd1d5" />
<polygon points="72.6,448.8 74.4,449.3 74.4,481.5 72.6,481.0" fill="#9ea3a8" />
<polygon points="45.7,442.6 72.3,450.0 72.3,471.2 45.7,463.7" fill="#1590dc" />
<polygon points="45.7,442.6 72.3,450.0 72.3,457.4 45.7,454.2" fill="#27a4ea" />
<polyline points="54.6,445.1 54.6,466.2" fill="none" stroke="#3a6f95" stroke-width="0.6"/>
<polyline points="63.4,447.5 63.4,468.7" fill="none" stroke="#3a6f95" stroke-width="0.6"/>
<polyline points="45.7,449.7 72.3,457.1" fill="none" stroke="#3a6f95" stroke-width="0.6"/>
<polyline points="45.7,456.7 72.3,464.2" fill="none" stroke="#3a6f95" stroke-width="0.6"/>
<line x1="78.0" y1="467.0" x2="101.0" y2="467.0" stroke="#333" stroke-width="0.7"/>
<polygon points="76.5,467.0 79.5,465.4 79.5,468.6" fill="#222" />
<line x1="78.0" y1="471.7" x2="101.0" y2="471.7" stroke="#333" stroke-width="0.7"/>
<polygon points="76.5,471.7 79.5,470.1 79.5,473.3" fill="#222" />
<text x="81.7" y="460.5" font-size="7.00" fill="#333" dominant-baseline="central" textLength="13.6" lengthAdjust="spacingAndGlyphs" style="font-family:'Liberation Serif',serif">HDMI</text>
<polygon points="100.7,463.5 126.9,470.4 145.9,461.8 119.7,455.0" fill="#585e62" />
<polygon points="100.7,463.5 126.9,470.4 126.9,478.1 100.7,471.3" fill="#3e4347" />
<polygon points="126.9,470.4 145.9,461.8 145.9,469.5 126.9,478.1" fill="#30353a" />
<polygon points="109.7,463.2 125.5,467.3 136.9,462.2 121.1,458.1" fill="none" stroke="#7e8489" stroke-width="0.5" />
<polygon points="117.7,462.9 124.2,464.6 129.0,462.5 122.4,460.8" fill="#d8dbde" stroke="#f4f4f4" stroke-width="0.4" />
<line x1="120.9" y1="463.7" x2="125.7" y2="461.6" stroke="#6a7075" stroke-width="0.5"/>
<circle cx="104.6" cy="468.4" r="0.6" fill="#d9a040"/>
<circle cx="124.4" cy="474.2" r="0.6" fill="#d9a040"/>
<polygon points="173.6,462.4 196.3,468.3 212.7,460.9 190.0,455.0" fill="#585e62" />
<polygon points="173.6,462.4 196.3,468.3 196.3,475.5 173.6,469.6" fill="#3e4347" />
<polygon points="196.3,468.3 212.7,460.9 212.7,468.1 196.3,475.5" fill="#30353a" />
<polygon points="181.4,462.1 195.0,465.6 204.9,461.2 191.3,457.7" fill="none" stroke="#7e8489" stroke-width="0.5" />
<ellipse cx="193.1" cy="461.6" rx="2.9" ry="2.0" fill="#aeb3b7" stroke="#eef0f1" stroke-width="0.7"/>
<path d="M191.6,461.6 Q193.1,459.7 194.7,461.6" fill="none" stroke="#f4f4f4" stroke-width="0.6"/>
<circle cx="177.0" cy="466.9" r="0.6" fill="#d9a040"/>
<circle cx="193.8" cy="471.9" r="0.6" fill="#d9a040"/>
<line x1="123.3" y1="481.0" x2="123.3" y2="524.0" stroke="#6cc28a" stroke-width="0.8"/>
<line x1="189.2" y1="479.0" x2="189.2" y2="562.0" stroke="#6cc28a" stroke-width="0.8"/>
<polygon points="98.0,543.4 100.4,543.8 100.4,546.6 98.0,546.4" fill="#7d8388" />
<polygon points="93.2,546.6 101.2,546.0 106.2,548.6 98.2,549.4" fill="#a4aaae" />
<polygon points="90.8,523.8 109.6,530.6 109.6,548.2 90.8,541.4" fill="#4a4f53" />
<polygon points="91.9,525.3 108.5,531.7 108.5,546.9 91.9,540.3" fill="#0f8ad2" />
<polygon points="91.9,525.3 108.5,531.7 108.5,537.3 91.9,533.2" fill="#27a9ee" />
<polygon points="117.4,550.4 119.8,550.8 119.8,553.6 117.4,553.4" fill="#7d8388" />
<polygon points="112.6,553.6 120.6,553.0 125.6,555.6 117.6,556.4" fill="#a4aaae" />
<polygon points="110.2,530.8 128.9,537.5 128.9,555.1 110.2,548.4" fill="#4a4f53" />
<polygon points="111.3,532.3 127.8,538.6 127.8,553.8 111.3,547.3" fill="#0f8ad2" />
<polygon points="111.3,532.3 127.8,538.6 127.8,544.3 111.3,540.2" fill="#27a9ee" />
<polygon points="128.3,538.4 135.1,540.1 144.5,535.9 137.7,534.2" fill="#a3a8ac" />
<polygon points="128.3,538.4 135.1,540.1 135.1,559.8 128.3,558.1" fill="#858a8e" />
<polygon points="135.1,540.1 144.5,535.9 144.5,555.6 135.1,559.8" fill="#45494d" />
<rect x="128.8" y="541.4" width="5.2" height="1.0" rx="0" fill="#6a6f73" />
<circle cx="133.0" cy="550.2" r="0.7" fill="#e0b030"/>
<polygon points="166.0,570.5 198.7,581.3 218.7,571.3 186.0,560.5" fill="#555b5f" />
<polygon points="166.0,570.5 198.7,581.3 198.7,588.1 166.0,577.4" fill="#464c50" />
<polygon points="198.7,581.3 218.7,571.3 218.7,578.1 198.7,588.1" fill="#2f3437" />
<polygon points="177.9,570.7 195.8,576.6 206.8,571.1 188.9,565.2" fill="#5b6165" stroke="#7b8186" stroke-width="0.5" />
<line x1="184.4" y1="570.9" x2="200.3" y2="570.9" stroke="#f5f5f5" stroke-width="1.2"/>
<line x1="192.3" y1="567.3" x2="192.3" y2="574.5" stroke="#f5f5f5" stroke-width="1.2"/>
<polygon points="182.4,570.9 185.9,569.4 185.9,572.4" fill="#f5f5f5" />
<polygon points="202.3,570.9 198.8,569.4 198.8,572.4" fill="#f5f5f5" />
<polygon points="192.3,565.5 190.8,568.1 193.8,568.1" fill="#f5f5f5" />
<polygon points="192.3,576.3 190.8,573.7 193.8,573.7" fill="#f5f5f5" />
<ellipse cx="192.3" cy="570.9" rx="2.2" ry="1.4" fill="#5b6165" stroke="#f5f5f5" stroke-width="0.8"/>
<rect x="167.9" y="573.2" width="1.8" height="1.6" rx="0" fill="#8d9397" />
<rect x="170.2" y="574.0" width="1.8" height="1.6" rx="0" fill="#8d9397" />
<rect x="172.5" y="574.7" width="1.8" height="1.6" rx="0" fill="#8d9397" />
<rect x="174.9" y="575.5" width="1.8" height="1.6" rx="0" fill="#8d9397" />
<rect x="177.2" y="576.3" width="1.8" height="1.6" rx="0" fill="#8d9397" />
<rect x="179.5" y="577.0" width="1.8" height="1.6" rx="0" fill="#8d9397" />
<rect x="181.9" y="577.8" width="1.8" height="1.6" rx="0" fill="#8d9397" />
<rect x="184.2" y="578.6" width="1.8" height="1.6" rx="0" fill="#8d9397" />
<rect x="186.5" y="579.3" width="1.8" height="1.6" rx="0" fill="#8d9397" />
<rect x="188.9" y="580.1" width="1.8" height="1.6" rx="0" fill="#8d9397" />
<rect x="191.2" y="580.9" width="1.8" height="1.6" rx="0" fill="#8d9397" />
<text x="59.9" y="489.0" font-size="9.86" fill="#3c3c3c" text-anchor="middle" font-weight="normal" dominant-baseline="central" textLength="29.6" lengthAdjust="spacingAndGlyphs" stroke="#3c3c3c" stroke-width="0.25">电视墙</text>
<text x="124.3" y="492.8" font-size="9.65" fill="#3c3c3c" text-anchor="middle" font-weight="normal" dominant-baseline="central" textLength="48.3" lengthAdjust="spacingAndGlyphs" stroke="#3c3c3c" stroke-width="0.25">高清解码器</text>
<text x="192.7" y="492.8" font-size="10.07" fill="#3c3c3c" text-anchor="middle" font-weight="normal" dominant-baseline="central" textLength="60.4" lengthAdjust="spacingAndGlyphs" stroke="#3c3c3c" stroke-width="0.25">流媒体服务器</text>
<text x="118.2" y="565.0" font-size="9.58" fill="#3c3c3c" text-anchor="middle" font-weight="normal" dominant-baseline="central" textLength="57.5" lengthAdjust="spacingAndGlyphs" stroke="#3c3c3c" stroke-width="0.25">监控管理终端</text>
<text x="222.4" y="562.0" font-size="9.55" fill="#3c3c3c" text-anchor="middle" font-weight="normal" dominant-baseline="central" textLength="47.8" lengthAdjust="spacingAndGlyphs" stroke="#3c3c3c" stroke-width="0.25">接入交换机</text>
<text x="628.7" y="445.8" font-size="12.84" fill="#1a7ac4" text-anchor="middle" font-weight="bold" dominant-baseline="central" textLength="89.9" lengthAdjust="spacingAndGlyphs">派出所分控中心</text>
<rect x="583.2" y="508.3" width="188.5" height="8.3" fill="url(#busg2)"/>
<polygon points="596.3,469.9 620.4,476.1 637.9,468.3 613.8,462.0" fill="#585e62" />
<polygon points="596.3,469.9 620.4,476.1 620.4,482.9 596.3,476.6" fill="#3e4347" />
<polygon points="620.4,476.1 637.9,468.3 637.9,475.0 620.4,482.9" fill="#30353a" />
<polygon points="604.6,469.5 619.1,473.3 629.6,468.6 615.1,464.8" fill="none" stroke="#7e8489" stroke-width="0.5" />
<ellipse cx="617.1" cy="469.1" rx="3.1" ry="2.1" fill="#aeb3b7" stroke="#eef0f1" stroke-width="0.7"/>
<path d="M615.4,469.1 Q617.1,467.0 618.8,469.1" fill="none" stroke="#f4f4f4" stroke-width="0.6"/>
<circle cx="599.9" cy="474.2" r="0.6" fill="#d9a040"/>
<circle cx="617.9" cy="479.5" r="0.6" fill="#d9a040"/>
<polygon points="681.3,466.5 707.5,473.4 726.5,464.8 700.3,458.0" fill="#585e62" />
<polygon points="681.3,466.5 707.5,473.4 707.5,480.9 681.3,474.0" fill="#3e4347" />
<polygon points="707.5,473.4 726.5,464.8 726.5,472.3 707.5,480.9" fill="#30353a" />
<polygon points="690.3,466.2 706.1,470.3 717.5,465.2 701.7,461.1" fill="none" stroke="#7e8489" stroke-width="0.5" />
<polygon points="698.2,465.9 704.8,467.6 709.5,465.5 703.0,463.8" fill="#d8dbde" stroke="#f4f4f4" stroke-width="0.4" />
<line x1="701.5" y1="466.7" x2="706.3" y2="464.6" stroke="#6a7075" stroke-width="0.5"/>
<circle cx="685.2" cy="471.3" r="0.6" fill="#d9a040"/>
<circle cx="705.0" cy="477.1" r="0.6" fill="#d9a040"/>
<line x1="727.0" y1="471.0" x2="749.0" y2="471.0" stroke="#333" stroke-width="0.7"/>
<polygon points="752.0,471.0 749.0,469.4 749.0,472.6" fill="#222" />
<line x1="727.0" y1="476.0" x2="749.0" y2="476.0" stroke="#333" stroke-width="0.7"/>
<polygon points="752.0,476.0 749.0,474.4 749.0,477.6" fill="#222" />
<text x="729.5" y="465.0" font-size="7.00" fill="#333" dominant-baseline="central" textLength="13.4" lengthAdjust="spacingAndGlyphs" style="font-family:'Liberation Serif',serif">HDMI</text>
<polygon points="751.8,454.7 783.0,466.0 783.0,497.8 751.8,486.0" fill="#cdd1d5" />
<polygon points="781.1,465.3 783.0,466.0 783.0,497.8 781.1,497.1" fill="#9ea3a8" />
<polygon points="753.0,456.4 780.8,466.5 780.8,487.4 753.0,477.1" fill="#1590dc" />
<polygon points="753.0,456.4 780.8,466.5 780.8,473.8 753.0,467.8" fill="#27a4ea" />
<polyline points="762.3,459.8 762.3,480.5" fill="none" stroke="#3a6f95" stroke-width="0.6"/>
<polyline points="771.6,463.1 771.6,484.0" fill="none" stroke="#3a6f95" stroke-width="0.6"/>
<polyline points="753.0,463.3 780.8,473.5" fill="none" stroke="#3a6f95" stroke-width="0.6"/>
<polyline points="753.0,470.2 780.8,480.5" fill="none" stroke="#3a6f95" stroke-width="0.6"/>
<line x1="612.0" y1="484.0" x2="612.0" y2="562.0" stroke="#6cc28a" stroke-width="0.8"/>
<line x1="704.2" y1="483.0" x2="704.2" y2="530.0" stroke="#6cc28a" stroke-width="0.8"/>
<polygon points="679.6,543.7 682.0,544.1 682.0,546.9 679.6,546.7" fill="#7d8388" />
<polygon points="674.8,546.9 682.8,546.3 687.8,548.9 679.8,549.7" fill="#a4aaae" />
<polygon points="672.4,524.6 691.0,531.3 691.0,548.4 672.4,541.7" fill="#4a4f53" />
<polygon points="673.5,526.1 689.9,532.4 689.9,547.1 673.5,540.6" fill="#0f8ad2" />
<polygon points="673.5,526.1 689.9,532.4 689.9,537.9 673.5,533.8" fill="#27a9ee" />
<polygon points="698.7,550.6 701.1,551.0 701.1,553.8 698.7,553.6" fill="#7d8388" />
<polygon points="693.9,553.8 701.9,553.2 706.9,555.8 698.9,556.6" fill="#a4aaae" />
<polygon points="691.6,531.5 710.2,538.2 710.2,555.3 691.6,548.6" fill="#4a4f53" />
<polygon points="692.7,533.0 709.1,539.3 709.1,554.0 692.7,547.5" fill="#0f8ad2" />
<polygon points="692.7,533.0 709.1,539.3 709.1,544.8 692.7,540.7" fill="#27a9ee" />
<polygon points="709.6,538.9 716.3,540.6 725.5,536.4 718.8,534.7" fill="#a3a8ac" />
<polygon points="709.6,538.9 716.3,540.6 716.3,559.7 709.6,558.0" fill="#858a8e" />
<polygon points="716.3,540.6 725.5,536.4 725.5,555.5 716.3,559.7" fill="#45494d" />
<rect x="710.1" y="541.9" width="5.2" height="1.0" rx="0" fill="#6a6f73" />
<circle cx="714.2" cy="550.2" r="0.7" fill="#e0b030"/>
<polygon points="588.2,571.2 620.9,582.0 640.9,572.0 608.2,561.2" fill="#555b5f" />
<polygon points="588.2,571.2 620.9,582.0 620.9,588.9 588.2,578.1" fill="#464c50" />
<polygon points="620.9,582.0 640.9,572.0 640.9,578.9 620.9,588.9" fill="#2f3437" />
<polygon points="600.1,571.4 618.0,577.3 629.0,571.8 611.1,565.9" fill="#5b6165" stroke="#7b8186" stroke-width="0.5" />
<line x1="606.6" y1="571.6" x2="622.5" y2="571.6" stroke="#f5f5f5" stroke-width="1.2"/>
<line x1="614.5" y1="568.0" x2="614.5" y2="575.2" stroke="#f5f5f5" stroke-width="1.2"/>
<polygon points="604.6,571.6 608.1,570.1 608.1,573.1" fill="#f5f5f5" />
<polygon points="624.5,571.6 621.0,570.1 621.0,573.1" fill="#f5f5f5" />
<polygon points="614.5,566.2 613.0,568.8 616.0,568.8" fill="#f5f5f5" />
<polygon points="614.5,577.0 613.0,574.4 616.0,574.4" fill="#f5f5f5" />
<ellipse cx="614.5" cy="571.6" rx="2.2" ry="1.4" fill="#5b6165" stroke="#f5f5f5" stroke-width="0.8"/>
<rect x="590.1" y="573.9" width="1.8" height="1.6" rx="0" fill="#8d9397" />
<rect x="592.4" y="574.7" width="1.8" height="1.6" rx="0" fill="#8d9397" />
<rect x="594.7" y="575.4" width="1.8" height="1.6" rx="0" fill="#8d9397" />
<rect x="597.1" y="576.2" width="1.8" height="1.6" rx="0" fill="#8d9397" />
<rect x="599.4" y="577.0" width="1.8" height="1.6" rx="0" fill="#8d9397" />
<rect x="601.7" y="577.8" width="1.8" height="1.6" rx="0" fill="#8d9397" />
<rect x="604.1" y="578.5" width="1.8" height="1.6" rx="0" fill="#8d9397" />
<rect x="606.4" y="579.3" width="1.8" height="1.6" rx="0" fill="#8d9397" />
<rect x="608.7" y="580.1" width="1.8" height="1.6" rx="0" fill="#8d9397" />
<rect x="611.1" y="580.8" width="1.8" height="1.6" rx="0" fill="#8d9397" />
<rect x="613.4" y="581.6" width="1.8" height="1.6" rx="0" fill="#8d9397" />
<text x="616.5" y="492.8" font-size="9.58" fill="#3c3c3c" text-anchor="middle" font-weight="normal" dominant-baseline="central" textLength="57.5" lengthAdjust="spacingAndGlyphs" stroke="#3c3c3c" stroke-width="0.25">流媒体服务器</text>
<text x="699.5" y="492.8" font-size="9.59" fill="#3c3c3c" text-anchor="middle" font-weight="normal" dominant-baseline="central" textLength="48.0" lengthAdjust="spacingAndGlyphs" stroke="#3c3c3c" stroke-width="0.25">高清解码器</text>
<text x="752.5" y="496.4" font-size="9.76" fill="#3c3c3c" text-anchor="middle" font-weight="normal" dominant-baseline="central" textLength="29.3" lengthAdjust="spacingAndGlyphs" stroke="#3c3c3c" stroke-width="0.25">电视墙</text>
<text x="758.3" y="545.4" font-size="9.59" fill="#3c3c3c" text-anchor="middle" font-weight="normal" dominant-baseline="central" textLength="57.6" lengthAdjust="spacingAndGlyphs" stroke="#3c3c3c" stroke-width="0.25">监控管理终端</text>
<text x="645.1" y="561.8" font-size="9.53" fill="#3c3c3c" text-anchor="middle" font-weight="normal" dominant-baseline="central" textLength="47.7" lengthAdjust="spacingAndGlyphs" stroke="#3c3c3c" stroke-width="0.25">接入交换机</text>
<rect x="37.3" y="680.0" width="86.3" height="5.2" fill="url(#busg2)"/>
<line x1="57.6" y1="685.0" x2="57.6" y2="735.0" stroke="#6cc28a" stroke-width="0.8"/>
<line x1="104.0" y1="685.0" x2="104.0" y2="722.0" stroke="#6cc28a" stroke-width="0.8"/>
<polygon points="33.0,747.5 49.0,750.7 75.0,735.7 59.0,732.5" fill="#eceef0" />
<polygon points="49.0,750.7 75.0,735.7 75.0,748.7 49.0,763.7" fill="#d3d6d9" />
<polygon points="33.0,747.5 49.0,750.7 49.0,763.7 33.0,760.5" fill="#c9ccd0" />
<polygon points="35.2,749.5 47.7,752.0 47.7,762.7 35.2,759.2" fill="#24272a" />
<ellipse cx="41.0" cy="756.2" rx="3.2" ry="3.6" fill="#1a88d4"/>
<ellipse cx="40.0" cy="755.2" rx="1.0" ry="1.2" fill="#5cb8f0"/>
<rect x="56.0" y="734.0" width="19.0" height="19.0" rx="1" fill="#f0f1f2" stroke="#7d8287" stroke-width="0.8" />
<rect x="59.4" y="737.8" width="12.2" height="11.4" rx="0.5" fill="#5f656a" />
<line x1="57.9" y1="739.3" x2="59.4" y2="739.3" stroke="#777" stroke-width="0.5"/>
<line x1="71.6" y1="739.3" x2="73.1" y2="739.3" stroke="#777" stroke-width="0.5"/>
<line x1="57.9" y1="742.2" x2="59.4" y2="742.2" stroke="#777" stroke-width="0.5"/>
<line x1="71.6" y1="742.2" x2="73.1" y2="742.2" stroke="#777" stroke-width="0.5"/>
<line x1="57.9" y1="745.0" x2="59.4" y2="745.0" stroke="#777" stroke-width="0.5"/>
<line x1="71.6" y1="745.0" x2="73.1" y2="745.0" stroke="#777" stroke-width="0.5"/>
<line x1="57.9" y1="747.9" x2="59.4" y2="747.9" stroke="#777" stroke-width="0.5"/>
<line x1="71.6" y1="747.9" x2="73.1" y2="747.9" stroke="#777" stroke-width="0.5"/>
<text x="65.5" y="743.8" font-size="7.60" fill="#ffffff" text-anchor="middle" font-weight="bold" dominant-baseline="central" letter-spacing="0">HD</text>
<rect x="100.2" y="723.0" width="7.2" height="6.7" rx="0" fill="#c9cdd0" />
<rect x="102.9" y="723.0" width="3.3" height="6.7" rx="0" fill="#e9ebec" />
<path d="M89.4,756.6 L87.4,744.0 A16.4,14.3 0 0 1 120.3,744.0 L118.3,756.6 Z" fill="#e7e9eb"/>
<path d="M110.4,730.6 A16.4,14.3 0 0 1 120.3,744.0 L118.3,756.6 L112.1,756.6 Z" fill="#d6d9dc"/>
<path d="M92.0,755.8 L115.7,755.8 C115.0,765.8 92.7,765.8 92.0,755.8 Z" fill="#222528"/>
<ellipse cx="103.8" cy="761.2" rx="2.6" ry="1.9" fill="#1a88d4"/>
<rect x="95.0" y="736.9" width="17.8" height="17.6" rx="1" fill="#f0f1f2" stroke="#7d8287" stroke-width="0.8" />
<rect x="98.2" y="740.4" width="11.4" height="10.6" rx="0.5" fill="#5f656a" />
<line x1="96.7" y1="741.8" x2="98.2" y2="741.8" stroke="#777" stroke-width="0.5"/>
<line x1="109.5" y1="741.8" x2="111.0" y2="741.8" stroke="#777" stroke-width="0.5"/>
<line x1="96.7" y1="744.4" x2="98.2" y2="744.4" stroke="#777" stroke-width="0.5"/>
<line x1="109.5" y1="744.4" x2="111.0" y2="744.4" stroke="#777" stroke-width="0.5"/>
<line x1="96.7" y1="747.1" x2="98.2" y2="747.1" stroke="#777" stroke-width="0.5"/>
<line x1="109.5" y1="747.1" x2="111.0" y2="747.1" stroke="#777" stroke-width="0.5"/>
<line x1="96.7" y1="749.7" x2="98.2" y2="749.7" stroke="#777" stroke-width="0.5"/>
<line x1="109.5" y1="749.7" x2="111.0" y2="749.7" stroke="#777" stroke-width="0.5"/>
<text x="103.8" y="746.0" font-size="7.06" fill="#ffffff" text-anchor="middle" font-weight="bold" dominant-baseline="central" letter-spacing="0">HD</text>
<text x="54.7" y="777.3" font-size="9.79" fill="#3c3c3c" text-anchor="middle" font-weight="normal" dominant-baseline="central" textLength="39.2" lengthAdjust="spacingAndGlyphs" stroke="#3c3c3c" stroke-width="0.25">高清网络</text>
<text x="54.0" y="788.5" font-size="9.66" fill="#3c3c3c" text-anchor="middle" font-weight="normal" dominant-baseline="central" textLength="29.0" lengthAdjust="spacingAndGlyphs" stroke="#3c3c3c" stroke-width="0.25">摄像机</text>
<text x="104.0" y="777.3" font-size="9.54" fill="#3c3c3c" text-anchor="middle" font-weight="normal" dominant-baseline="central" textLength="38.2" lengthAdjust="spacingAndGlyphs" stroke="#3c3c3c" stroke-width="0.25">高清网络</text>
<text x="104.0" y="788.5" font-size="10.00" fill="#3c3c3c" text-anchor="middle" font-weight="normal" dominant-baseline="central" textLength="20.0" lengthAdjust="spacingAndGlyphs" stroke="#3c3c3c" stroke-width="0.25">球机</text>
<text x="80.4" y="811.2" font-size="12.93" fill="#1a7ac4" text-anchor="middle" font-weight="bold" dominant-baseline="central" textLength="77.6" lengthAdjust="spacingAndGlyphs">高清治安监控</text>
<rect x="143.0" y="680.0" width="86.3" height="5.2" fill="url(#busg2)"/>
<line x1="165.0" y1="685.0" x2="165.0" y2="730.0" stroke="#6cc28a" stroke-width="0.8"/>
<line x1="211.7" y1="685.0" x2="211.7" y2="736.0" stroke="#6cc28a" stroke-width="0.8"/>
<polygon points="146.4,744.2 157.9,747.7 182.9,731.7 171.4,728.2" fill="#eceef0" />
<polygon points="157.9,747.7 182.9,731.7 182.9,746.7 157.9,762.7" fill="#d3d6d9" />
<polygon points="146.4,744.2 157.9,747.7 157.9,762.7 146.4,759.2" fill="#24272a" />
<ellipse cx="152.2" cy="754.2" rx="3.8" ry="4.2" fill="#1a88d4"/>
<ellipse cx="151.5" cy="753.0" rx="0.7" ry="1.3" fill="#5cb8f0"/>
<rect x="160.2" y="733.3" width="18.5" height="18.5" rx="1" fill="#f0f1f2" stroke="#7d8287" stroke-width="0.8" />
<rect x="161.7" y="734.8" width="15.5" height="15.5" rx="0.5" fill="#e6e8ea" />
<circle cx="169.4" cy="741.1" r="2.8" fill="#5a5f63"/>
<path d="M164.6,748.1 Q165.0,744.0 169.4,744.4 Q173.9,744.0 174.3,748.1 Z" fill="#5a5f63"/>
<polyline points="164.8,738.5 163.9,738.5 163.9,742.2 164.8,742.2" fill="none" stroke="#666" stroke-width="0.6"/>
<polyline points="174.1,738.5 175.0,738.5 175.0,742.2 174.1,742.2" fill="none" stroke="#666" stroke-width="0.6"/>
<polygon points="191.4,746.0 203.0,749.5 228.0,732.5 216.4,729.0" fill="#eceef0" />
<polygon points="203.0,749.5 228.0,732.5 228.0,747.5 203.0,764.5" fill="#d3d6d9" />
<polygon points="191.4,746.0 203.0,749.5 203.0,764.5 191.4,761.0" fill="#24272a" />
<ellipse cx="197.2" cy="756.0" rx="3.8" ry="4.2" fill="#1a88d4"/>
<ellipse cx="196.5" cy="754.8" rx="0.7" ry="1.3" fill="#5cb8f0"/>
<rect x="205.2" y="733.9" width="18.5" height="19.5" rx="1" fill="#f0f1f2" stroke="#7d8287" stroke-width="0.8" />
<rect x="206.7" y="735.5" width="15.5" height="16.4" rx="0.5" fill="#e6e8ea" />
<circle cx="214.4" cy="742.1" r="2.8" fill="#5a5f63"/>
<path d="M209.6,749.5 Q210.0,745.2 214.4,745.6 Q218.9,745.2 219.3,749.5 Z" fill="#5a5f63"/>
<polyline points="209.8,739.4 208.9,739.4 208.9,743.3 209.8,743.3" fill="none" stroke="#666" stroke-width="0.6"/>
<polyline points="219.1,739.4 220.0,739.4 220.0,743.3 219.1,743.3" fill="none" stroke="#666" stroke-width="0.6"/>
<text x="183.9" y="777.3" font-size="9.56" fill="#3c3c3c" text-anchor="middle" font-weight="normal" dominant-baseline="central" textLength="38.3" lengthAdjust="spacingAndGlyphs" stroke="#3c3c3c" stroke-width="0.25">高清人脸</text>
<text x="184.0" y="788.5" font-size="9.66" fill="#3c3c3c" text-anchor="middle" font-weight="normal" dominant-baseline="central" textLength="29.0" lengthAdjust="spacingAndGlyphs" stroke="#3c3c3c" stroke-width="0.25">抓拍机</text>
<text x="184.1" y="811.2" font-size="12.81" fill="#1a7ac4" text-anchor="middle" font-weight="bold" dominant-baseline="central" textLength="76.9" lengthAdjust="spacingAndGlyphs">高清人脸抓拍</text>
<rect x="245.2" y="680.8" width="147.8" height="4.8" fill="url(#busg2)"/>
<polygon points="247.2,646.6 274.1,655.4 288.2,647.0 261.3,638.1" fill="#4f5559" />
<polygon points="247.2,646.6 274.1,655.4 274.1,663.1 247.2,654.2" fill="#3c4145" />
<polygon points="274.1,655.4 288.2,647.0 288.2,654.6 274.1,663.1" fill="#2b2f33" />
<line x1="248.2" y1="649.1" x2="273.1" y2="658.0" stroke="#5d6367" stroke-width="0.6"/>
<line x1="248.2" y1="651.7" x2="273.1" y2="660.5" stroke="#5d6367" stroke-width="0.6"/>
<line x1="253.9" y1="649.8" x2="253.9" y2="655.5" stroke="#555b5f" stroke-width="0.5"/>
<line x1="260.6" y1="652.0" x2="260.6" y2="657.7" stroke="#555b5f" stroke-width="0.5"/>
<line x1="267.3" y1="654.2" x2="267.3" y2="659.9" stroke="#555b5f" stroke-width="0.5"/>
<polygon points="255.4,646.7 271.5,652.0 280.0,646.9 263.9,641.6" fill="none" stroke="#81878b" stroke-width="0.5" />
<circle cx="267.7" cy="646.3" r="2.9" fill="none" stroke="#e8eaec" stroke-width="0.8"/>
<line x1="269.3" y1="648.0" x2="271.4" y2="649.6" stroke="#e8eaec" stroke-width="0.9"/>
<polygon points="346.0,656.2 367.2,649.0 371.0,652.0 351.0,661.0" fill="#dadde0" stroke="#b4b8bc" stroke-width="0.4" />
<polygon points="325.3,650.5 337.8,653.6 361.8,640.6 349.3,637.5" fill="#eceef0" />
<polygon points="337.8,653.6 361.8,640.6 361.8,652.1 337.8,665.1" fill="#d3d6d9" />
<polygon points="325.3,650.5 337.8,653.6 337.8,665.1 325.3,662.0" fill="#c9ccd0" />
<polygon points="327.1,652.3 336.8,654.7 336.8,664.2 327.1,660.9" fill="#24272a" />
<ellipse cx="331.6" cy="658.4" rx="2.5" ry="3.2" fill="#1a88d4"/>
<ellipse cx="330.8" cy="657.5" rx="0.8" ry="1.0" fill="#5cb8f0"/>
<rect x="349.0" y="636.1" width="15.7" height="15.9" rx="1" fill="#f0f1f2" stroke="#7d8287" stroke-width="0.8" />
<rect x="351.2" y="638.3" width="11.3" height="11.4" rx="0.5" fill="#5f656a" />
<text x="356.9" y="644.1" font-size="5.41" fill="#ffffff" text-anchor="middle" font-weight="bold" dominant-baseline="central" letter-spacing="0">360</text>
<line x1="264.7" y1="662.0" x2="264.7" y2="708.0" stroke="#6cc28a" stroke-width="0.8"/>
<line x1="348.8" y1="660.0" x2="348.8" y2="700.0" stroke="#6cc28a" stroke-width="0.8"/>
<polygon points="254.0,712.8 265.6,716.9 275.0,712.6 263.4,708.6" fill="#6a7075" />
<polygon points="254.0,712.8 265.6,716.9 265.6,736.9 254.0,732.9" fill="#34393d" />
<polygon points="265.6,716.9 275.0,712.6 275.0,732.7 265.6,736.9" fill="#26292c" />
<polyline points="259.2,719.5 260.7,722.2 258.6,724.9 260.3,727.5" fill="none" stroke="#e03a2a" stroke-width="1.2"/>
<text x="291.0" y="713.6" font-size="8.00" fill="#333" text-anchor="start" font-weight="normal" dominant-baseline="central" letter-spacing="0" style="font-family:'Liberation Serif',serif">I/O</text>
<line x1="275.0" y1="719.2" x2="316.0" y2="719.2" stroke="#ef6a6a" stroke-width="0.8" stroke-dasharray="2.5,2"/>
<polygon points="343.0,719.8 366.8,712.0 371.0,715.2 348.6,725.0" fill="#dadde0" stroke="#b4b8bc" stroke-width="0.4" />
<polygon points="315.5,715.5 329.5,718.6 355.5,703.6 341.5,700.5" fill="#eceef0" />
<polygon points="329.5,718.6 355.5,703.6 355.5,716.1 329.5,731.1" fill="#d3d6d9" />
<polygon points="315.5,715.5 329.5,718.6 329.5,731.1 315.5,728.0" fill="#c9ccd0" />
<polygon points="317.5,717.4 328.3,719.8 328.3,730.1 317.5,726.8" fill="#24272a" />
<ellipse cx="322.5" cy="723.9" rx="2.8" ry="3.5" fill="#1a88d4"/>
<ellipse cx="321.7" cy="722.9" rx="0.8" ry="1.1" fill="#5cb8f0"/>
<rect x="342.4" y="698.4" width="20.1" height="19.6" rx="1" fill="#f0f1f2" stroke="#7d8287" stroke-width="0.8" />
<rect x="345.2" y="701.1" width="14.5" height="14.1" rx="0.5" fill="#5f656a" />
<text x="352.4" y="705.5" font-size="4.90" fill="#ffffff" text-anchor="middle" font-weight="bold" dominant-baseline="central" letter-spacing="0">300W</text>
<rect x="348.4" y="709.2" width="8.0" height="3.9" rx="1" fill="#e8e8e8" />
<line x1="343.2" y1="728.0" x2="343.2" y2="756.0" stroke="#ef6a6a" stroke-width="0.8" stroke-dasharray="2.5,2"/>
<text x="345.6" y="746.0" font-size="8.00" fill="#333" text-anchor="start" font-weight="normal" dominant-baseline="central" letter-spacing="0" style="font-family:'Liberation Serif',serif">I/O</text>
<polygon points="333.0,758.1 352.6,753.2 354.0,766.6 335.8,775.2" fill="#e6e8ea" stroke="#b0b4b8" stroke-width="0.5" />
<polygon points="334.4,766.6 354.0,760.4 354.0,766.6 335.8,775.2" fill="#d0d3d6" />
<ellipse cx="333.3" cy="766.6" rx="7.3" ry="9.0" fill="#f3f4f5" stroke="#a5aaae" stroke-width="0.6"/>
<ellipse cx="333.3" cy="766.6" rx="4.2" ry="5.4" fill="none" stroke="#c5c9cc" stroke-width="0.5"/>
<circle cx="333.3" cy="766.6" r="1.7" fill="#9ea3a8"/>
<polyline points="263.0,736.0 263.0,772.6 275.0,772.6" fill="none" stroke="#777" stroke-width="0.8" stroke-dasharray="3,2"/>
<line x1="263.0" y1="752.9" x2="275.0" y2="752.9" stroke="#777" stroke-width="0.8"/>
<rect x="275.0" y="750.5" width="27.6" height="5.0" rx="0" fill="#ffffff" stroke="#777" stroke-width="0.7" />
<rect x="275.0" y="770.0" width="27.6" height="5.0" rx="0" fill="#ffffff" stroke="#777" stroke-width="0.7" />
<text x="293.7" y="669.8" font-size="9.59" fill="#3c3c3c" text-anchor="middle" font-weight="normal" dominant-baseline="central" textLength="48.0" lengthAdjust="spacingAndGlyphs" stroke="#3c3c3c" stroke-width="0.25">终端服务器</text>
<text x="354.7" y="669.8" font-size="9.67" fill="#3c3c3c" text-anchor="middle" font-weight="normal" dominant-baseline="central" textLength="48.4" lengthAdjust="spacingAndGlyphs" stroke="#3c3c3c" stroke-width="0.25">全景摄像机</text>
<text x="286.1" y="736.2" font-size="10.03" fill="#3c3c3c" text-anchor="middle" font-weight="normal" dominant-baseline="central" textLength="30.1" lengthAdjust="spacingAndGlyphs" stroke="#3c3c3c" stroke-width="0.25">车检器</text>
<text x="368.1" y="733.8" font-size="9.67" fill="#3c3c3c" text-anchor="middle" font-weight="normal" dominant-baseline="central" textLength="48.4" lengthAdjust="spacingAndGlyphs" stroke="#3c3c3c" stroke-width="0.25">高清抓拍机</text>
<text x="345.9" y="787.2" font-size="9.41" fill="#3c3c3c" text-anchor="middle" font-weight="normal" dominant-baseline="central" textLength="28.2" lengthAdjust="spacingAndGlyphs" stroke="#3c3c3c" stroke-width="0.25">补光灯</text>
<text x="288.6" y="787.2" font-size="9.64" fill="#3c3c3c" text-anchor="middle" font-weight="normal" dominant-baseline="central" textLength="38.6" lengthAdjust="spacingAndGlyphs" stroke="#3c3c3c" stroke-width="0.25">地感线圈</text>
<text x="317.6" y="810.8" font-size="12.76" fill="#1a7ac4" text-anchor="middle" font-weight="bold" dominant-baseline="central" textLength="76.6" lengthAdjust="spacingAndGlyphs">高清治安卡口</text>
<rect x="409.6" y="680.6" width="135.6" height="5.0" fill="url(#busg2)"/>
<polygon points="457.9,645.5 484.3,654.3 498.2,645.9 471.8,637.2" fill="#4f5559" />
<polygon points="457.9,645.5 484.3,654.3 484.3,662.4 457.9,653.7" fill="#3c4145" />
<polygon points="484.3,654.3 498.2,645.9 498.2,654.1 484.3,662.4" fill="#2b2f33" />
<line x1="458.9" y1="648.3" x2="483.3" y2="657.0" stroke="#5d6367" stroke-width="0.6"/>
<line x1="458.9" y1="651.0" x2="483.3" y2="659.7" stroke="#5d6367" stroke-width="0.6"/>
<line x1="464.5" y1="648.7" x2="464.5" y2="654.9" stroke="#555b5f" stroke-width="0.5"/>
<line x1="471.1" y1="650.9" x2="471.1" y2="657.0" stroke="#555b5f" stroke-width="0.5"/>
<line x1="477.7" y1="653.1" x2="477.7" y2="659.2" stroke="#555b5f" stroke-width="0.5"/>
<polygon points="466.0,645.6 481.8,650.8 490.1,645.8 474.3,640.6" fill="none" stroke="#81878b" stroke-width="0.5" />
<circle cx="478.0" cy="645.2" r="2.8" fill="none" stroke="#e8eaec" stroke-width="0.8"/>
<line x1="479.7" y1="646.9" x2="481.7" y2="648.5" stroke="#e8eaec" stroke-width="0.9"/>
<line x1="477.2" y1="662.0" x2="477.2" y2="681.0" stroke="#6cc28a" stroke-width="0.8"/>
<line x1="433.5" y1="685.0" x2="433.5" y2="700.0" stroke="#6cc28a" stroke-width="0.8"/>
<polygon points="416.8,710.9 427.8,713.6 451.8,698.6 440.8,695.9" fill="#eceef0" />
<polygon points="427.8,713.6 451.8,698.6 451.8,712.6 427.8,727.6" fill="#d3d6d9" />
<polygon points="416.8,710.9 427.8,713.6 427.8,727.6 416.8,724.9" fill="#24272a" />
<ellipse cx="422.3" cy="720.0" rx="3.6" ry="3.9" fill="#1a88d4"/>
<ellipse cx="421.6" cy="718.9" rx="0.7" ry="1.3" fill="#5cb8f0"/>
<rect x="440.5" y="698.2" width="19.0" height="19.0" rx="1" fill="#f0f1f2" stroke="#7d8287" stroke-width="0.8" />
<rect x="443.2" y="700.9" width="13.7" height="13.7" rx="0.5" fill="#5f656a" />
<text x="450.0" y="705.0" font-size="4.75" fill="#ffffff" text-anchor="middle" font-weight="bold" dominant-baseline="central" letter-spacing="0">500W</text>
<rect x="446.2" y="708.7" width="7.6" height="3.8" rx="1" fill="#e8e8e8" />
<text x="470.2" y="706.0" font-size="8.00" fill="#333" text-anchor="start" font-weight="normal" dominant-baseline="central" letter-spacing="0" style="font-family:'Liberation Serif',serif">I/O</text>
<line x1="459.0" y1="710.4" x2="492.0" y2="710.4" stroke="#ef6a6a" stroke-width="0.8" stroke-dasharray="2.5,2"/>
<polygon points="491.2,708.0 511.2,717.0 525.2,710.0 505.2,701.0" fill="#4a5055" />
<polygon points="491.2,708.0 511.2,717.0 511.2,721.0 491.2,712.0" fill="#2f3438" />
<polygon points="511.2,717.0 525.2,710.0 525.2,714.0 511.2,721.0" fill="#25292c" />
<circle cx="503.0" cy="707.5" r="0.9" fill="#e8221b"/>
<circle cx="505.2" cy="707.2" r="0.9" fill="#f0c000"/>
<circle cx="507.4" cy="706.9" r="0.9" fill="#1fae3a"/>
<circle cx="509.6" cy="706.6" r="0.9" fill="#e8221b"/>
<line x1="435.2" y1="724.0" x2="435.2" y2="752.0" stroke="#ef6a6a" stroke-width="0.8" stroke-dasharray="2.5,2"/>
<text x="425.6" y="740.4" font-size="8.00" fill="#333" text-anchor="start" font-weight="normal" dominant-baseline="central" letter-spacing="0" style="font-family:'Liberation Serif',serif">I/O</text>
<line x1="508.2" y1="717.0" x2="508.2" y2="745.0" stroke="#ef6a6a" stroke-width="0.8" stroke-dasharray="2.5,2"/>
<text x="495.6" y="739.0" font-size="8.00" fill="#333" text-anchor="start" font-weight="normal" dominant-baseline="central" letter-spacing="0" style="font-family:'Liberation Serif',serif">I/O</text>
<polygon points="425.2,754.4 444.6,750.6 446.0,761.0 428.0,767.7" fill="#e6e8ea" stroke="#b0b4b8" stroke-width="0.5" />
<polygon points="426.6,761.0 446.0,756.2 446.0,761.0 428.0,767.7" fill="#d0d3d6" />
<ellipse cx="425.5" cy="761.0" rx="7.2" ry="7.0" fill="#f3f4f5" stroke="#a5aaae" stroke-width="0.6"/>
<ellipse cx="425.5" cy="761.0" rx="4.2" ry="4.2" fill="none" stroke="#c5c9cc" stroke-width="0.5"/>
<circle cx="425.5" cy="761.0" r="1.7" fill="#9ea3a8"/>
<rect x="501.5" y="744.8" width="11.5" height="24.2" rx="1" fill="#50565b" />
<rect x="510.5" y="744.8" width="2.5" height="24.2" rx="0" fill="#3a3f43" />
<circle cx="506.3" cy="749.6" r="3.2" fill="#e8221b"/>
<circle cx="506.3" cy="756.9" r="3.2" fill="#f0c000"/>
<circle cx="506.3" cy="764.2" r="3.2" fill="#1fae3a"/>
<text x="513.1" y="669.0" font-size="9.53" fill="#3c3c3c" text-anchor="middle" font-weight="normal" dominant-baseline="central" textLength="47.7" lengthAdjust="spacingAndGlyphs" stroke="#3c3c3c" stroke-width="0.25">终端服务器</text>
<text x="532.1" y="721.5" font-size="10.07" fill="#3c3c3c" text-anchor="middle" font-weight="normal" dominant-baseline="central" textLength="30.2" lengthAdjust="spacingAndGlyphs" stroke="#3c3c3c" stroke-width="0.25">信号灯</text>
<text x="532.1" y="731.7" font-size="10.07" fill="#3c3c3c" text-anchor="middle" font-weight="normal" dominant-baseline="central" textLength="30.2" lengthAdjust="spacingAndGlyphs" stroke="#3c3c3c" stroke-width="0.25">检测器</text>
<text x="465.8" y="728.2" font-size="9.82" fill="#3c3c3c" text-anchor="middle" font-weight="normal" dominant-baseline="central" textLength="49.1" lengthAdjust="spacingAndGlyphs" stroke="#3c3c3c" stroke-width="0.25">一体化电警</text>
<text x="465.5" y="739.0" font-size="10.00" fill="#3c3c3c" text-anchor="middle" font-weight="normal" dominant-baseline="central" textLength="40.0" lengthAdjust="spacingAndGlyphs" stroke="#3c3c3c" stroke-width="0.25">抓拍单元</text>
<text x="438.8" y="781.2" font-size="9.07" fill="#3c3c3c" text-anchor="middle" font-weight="normal" dominant-baseline="central" textLength="27.2" lengthAdjust="spacingAndGlyphs" stroke="#3c3c3c" stroke-width="0.25">补光灯</text>
<text x="507.8" y="781.2" font-size="9.76" fill="#3c3c3c" text-anchor="middle" font-weight="normal" dominant-baseline="central" textLength="29.3" lengthAdjust="spacingAndGlyphs" stroke="#3c3c3c" stroke-width="0.25">红绿灯</text>
<text x="479.6" y="810.4" font-size="12.85" fill="#1a7ac4" text-anchor="middle" font-weight="bold" dominant-baseline="central" textLength="77.1" lengthAdjust="spacingAndGlyphs">高清电子警察</text>
<polygon points="546.0,589.0 563.0,593.7 563.0,610.2 546.0,605.5" fill="#f56a6a" />
<polygon points="561.5,593.2 563.0,593.7 563.0,610.2 561.5,609.8" fill="#7a2020" />
<circle cx="547.3" cy="590.7" r="0.8" fill="#6a5a20"/>
<circle cx="549.9" cy="591.4" r="0.8" fill="#d81818"/>
<circle cx="552.5" cy="592.1" r="0.8" fill="#d81818"/>
<circle cx="555.2" cy="592.8" r="0.8" fill="#6a5a20"/>
<circle cx="557.8" cy="593.6" r="0.8" fill="#d81818"/>
<circle cx="560.4" cy="594.3" r="0.8" fill="#d81818"/>
<circle cx="548.6" cy="593.2" r="0.8" fill="#d81818"/>
<circle cx="551.2" cy="594.0" r="0.8" fill="#d81818"/>
<circle cx="553.8" cy="594.7" r="0.8" fill="#6a5a20"/>
<circle cx="556.5" cy="595.4" r="0.8" fill="#d81818"/>
<circle cx="559.1" cy="596.1" r="0.8" fill="#d81818"/>
<circle cx="561.7" cy="596.8" r="0.8" fill="#6a5a20"/>
<circle cx="547.3" cy="595.1" r="0.8" fill="#d81818"/>
<circle cx="549.9" cy="595.8" r="0.8" fill="#6a5a20"/>
<circle cx="552.5" cy="596.5" r="0.8" fill="#d81818"/>
<circle cx="555.2" cy="597.2" r="0.8" fill="#d81818"/>
<circle cx="557.8" cy="598.0" r="0.8" fill="#6a5a20"/>
<circle cx="560.4" cy="598.7" r="0.8" fill="#d81818"/>
<circle cx="548.6" cy="597.7" r="0.8" fill="#6a5a20"/>
<circle cx="551.2" cy="598.4" r="0.8" fill="#d81818"/>
<circle cx="553.8" cy="599.1" r="0.8" fill="#d81818"/>
<circle cx="556.5" cy="599.8" r="0.8" fill="#6a5a20"/>
<circle cx="559.1" cy="600.5" r="0.8" fill="#d81818"/>
<circle cx="561.7" cy="601.2" r="0.8" fill="#d81818"/>
<circle cx="547.3" cy="599.5" r="0.8" fill="#d81818"/>
<circle cx="549.9" cy="600.2" r="0.8" fill="#d81818"/>
<circle cx="552.5" cy="600.9" r="0.8" fill="#6a5a20"/>
<circle cx="555.2" cy="601.7" r="0.8" fill="#d81818"/>
<circle cx="557.8" cy="602.4" r="0.8" fill="#d81818"/>
<circle cx="560.4" cy="603.1" r="0.8" fill="#6a5a20"/>
<circle cx="548.6" cy="602.1" r="0.8" fill="#d81818"/>
<circle cx="551.2" cy="602.8" r="0.8" fill="#6a5a20"/>
<circle cx="553.8" cy="603.5" r="0.8" fill="#d81818"/>
<circle cx="556.5" cy="604.2" r="0.8" fill="#d81818"/>
<circle cx="559.1" cy="604.9" r="0.8" fill="#6a5a20"/>
<circle cx="561.7" cy="605.7" r="0.8" fill="#d81818"/>
<circle cx="547.3" cy="603.9" r="0.8" fill="#6a5a20"/>
<circle cx="549.9" cy="604.6" r="0.8" fill="#d81818"/>
<circle cx="552.5" cy="605.3" r="0.8" fill="#d81818"/>
<circle cx="555.2" cy="606.1" r="0.8" fill="#6a5a20"/>
<circle cx="557.8" cy="606.8" r="0.8" fill="#d81818"/>
<circle cx="560.4" cy="607.5" r="0.8" fill="#d81818"/>
<text x="544.5" y="617.3" font-size="9.55" fill="#3c3c3c" text-anchor="middle" font-weight="normal" dominant-baseline="central" textLength="28.7" lengthAdjust="spacingAndGlyphs" stroke="#3c3c3c" stroke-width="0.25">防火墙</text>
<polygon points="609.6,646.5 606.3,649.4 599.7,649.4 596.4,646.5 599.7,643.6 606.3,643.6" fill="#e6e8eb" stroke="#a3a8ad" stroke-width="0.5" />
<polygon points="598.6,649.5 595.3,652.4 588.7,652.4 585.4,649.5 588.7,646.6 595.3,646.6" fill="#e6e8eb" stroke="#a3a8ad" stroke-width="0.5" />
<polygon points="621.1,649.5 617.8,652.4 611.2,652.4 607.9,649.5 611.2,646.6 617.8,646.6" fill="#e6e8eb" stroke="#a3a8ad" stroke-width="0.5" />
<polygon points="609.6,653.0 606.3,655.9 599.7,655.9 596.4,653.0 599.7,650.1 606.3,650.1" fill="#e6e8eb" stroke="#a3a8ad" stroke-width="0.5" />
<polygon points="597.1,656.0 593.8,658.9 587.2,658.9 583.9,656.0 587.2,653.1 593.8,653.1" fill="#e6e8eb" stroke="#a3a8ad" stroke-width="0.5" />
<polygon points="619.6,656.0 616.3,658.9 609.7,658.9 606.4,656.0 609.7,653.1 616.3,653.1" fill="#e6e8eb" stroke="#a3a8ad" stroke-width="0.5" />
<polygon points="608.1,659.5 604.8,662.4 598.2,662.4 594.9,659.5 598.2,656.6 604.8,656.6" fill="#e6e8eb" stroke="#a3a8ad" stroke-width="0.5" />
<line x1="603.1" y1="623.9" x2="596.9" y2="652.6" stroke="#6d7378" stroke-width="1.0"/>
<line x1="603.1" y1="623.9" x2="609.3" y2="651.9" stroke="#6d7378" stroke-width="1.0"/>
<line x1="603.1" y1="622.0" x2="603.1" y2="652.0" stroke="#8a9095" stroke-width="0.7"/>
<line x1="602.2" y1="628.0" x2="604.0" y2="628.0" stroke="#80868b" stroke-width="0.5"/>
<line x1="602.2" y1="628.0" x2="604.9" y2="632.0" stroke="#969ca1" stroke-width="0.45"/>
<line x1="604.0" y1="628.0" x2="601.3" y2="632.0" stroke="#969ca1" stroke-width="0.45"/>
<line x1="601.3" y1="632.0" x2="604.9" y2="632.0" stroke="#80868b" stroke-width="0.5"/>
<line x1="601.3" y1="632.0" x2="605.8" y2="636.1" stroke="#969ca1" stroke-width="0.45"/>
<line x1="604.9" y1="632.0" x2="600.4" y2="636.1" stroke="#969ca1" stroke-width="0.45"/>
<line x1="600.4" y1="636.1" x2="605.8" y2="636.1" stroke="#80868b" stroke-width="0.5"/>
<line x1="600.4" y1="636.1" x2="606.6" y2="640.2" stroke="#969ca1" stroke-width="0.45"/>
<line x1="605.8" y1="636.1" x2="599.6" y2="640.2" stroke="#969ca1" stroke-width="0.45"/>
<line x1="599.6" y1="640.2" x2="606.6" y2="640.2" stroke="#80868b" stroke-width="0.5"/>
<line x1="599.6" y1="640.2" x2="607.5" y2="644.3" stroke="#969ca1" stroke-width="0.45"/>
<line x1="606.6" y1="640.2" x2="598.7" y2="644.3" stroke="#969ca1" stroke-width="0.45"/>
<line x1="598.7" y1="644.3" x2="607.5" y2="644.3" stroke="#80868b" stroke-width="0.5"/>
<line x1="598.7" y1="644.3" x2="608.4" y2="648.3" stroke="#969ca1" stroke-width="0.45"/>
<line x1="607.5" y1="644.3" x2="597.8" y2="648.3" stroke="#969ca1" stroke-width="0.45"/>
<line x1="597.8" y1="648.3" x2="608.4" y2="648.3" stroke="#80868b" stroke-width="0.5"/>
<polyline points="597.0,622.0 603.1,625.0 609.0,622.0" fill="none" stroke="#b8bcc0" stroke-width="0.6"/>
<text x="636.7" y="645.9" font-size="9.50" fill="#3c3c3c" text-anchor="middle" font-weight="normal" dominant-baseline="central" textLength="29.4" lengthAdjust="spacingAndGlyphs" stroke="#3c3c3c" stroke-width="0.25">运营商</text>
<text x="636.0" y="657.0" font-size="9.50" fill="#3c3c3c" text-anchor="middle" font-weight="normal" dominant-baseline="central" textLength="19.6" lengthAdjust="spacingAndGlyphs" stroke="#3c3c3c" stroke-width="0.25">3G网</text>
<polygon points="562.7,603.5 580.7,609.2 579.3,611.7 603.3,625.5 573.3,612.9 574.7,610.4" fill="#f2e81a" stroke="#6b6b3a" stroke-width="0.45" />
<polygon points="596.7,665.2 593.0,710.1 587.7,708.7 580.4,737.4 583.2,696.1 588.5,697.5" fill="#f2e81a" stroke="#6b6b3a" stroke-width="0.45" />
<polygon points="609.0,663.7 627.4,696.2 623.5,697.7 636.5,732.2 614.9,691.4 618.9,689.9" fill="#f2e81a" stroke="#6b6b3a" stroke-width="0.45" />
<polygon points="570.0,731.0 578.0,735.0 578.0,762.0 570.0,758.0" fill="#2d3236" />
<polygon points="578.0,735.0 582.0,733.0 582.0,760.0 578.0,762.0" fill="#1f2326" />
<polygon points="571.0,739.0 577.0,742.0 577.0,753.0 571.0,750.0" fill="#1a86d0" />
<line x1="572.5" y1="725.0" x2="572.5" y2="732.0" stroke="#444" stroke-width="1.6"/>
<circle cx="586" cy="748" r="5" fill="#f0cf9a"/>
<path d="M580,746 Q580,738 587,738 Q594,739 593,746 Z" fill="#263a5e"/>
<ellipse cx="590" cy="741" rx="4" ry="3" fill="#f2f2f2" stroke="#bbb" stroke-width="0.4"/>
<path d="M577,762 Q578,752 586,753 Q594,753 594,762 Z" fill="#a9c4e0"/>
<polygon points="622.0,746.0 641.0,736.0 652.0,739.0 654.0,744.0 654.0,753.0 630.0,763.0 622.0,760.0" fill="#eceef0" stroke="#8a8f94" stroke-width="0.4" />
<polygon points="619.0,742.0 638.0,734.0 650.0,737.0 631.0,745.0" fill="#d5d8db" />
<polygon points="633.0,747.0 651.0,740.0 651.0,746.0 633.0,753.0" fill="#30353b" />
<polygon points="610.0,751.0 619.0,742.0 631.0,745.0 623.0,754.0" fill="#2a2f36" />
<polygon points="615.0,748.0 620.0,744.0 628.0,746.0 622.0,751.0" fill="#3d4a5a" />
<polygon points="610.0,751.0 623.0,754.0 624.0,763.0 611.0,759.0" fill="#30353b" />
<line x1="612.0" y1="753.0" x2="621.0" y2="755.0" stroke="#c8ccd0" stroke-width="0.6"/>
<line x1="612.0" y1="756.0" x2="621.0" y2="758.0" stroke="#c8ccd0" stroke-width="0.6"/>
<circle cx="620" cy="761.5" r="3.2" fill="#26292c"/><circle cx="646" cy="756.5" r="3.2" fill="#26292c"/>
<circle cx="620" cy="761.5" r="1.2" fill="#9aa0a5"/><circle cx="646" cy="756.5" r="1.2" fill="#9aa0a5"/>
<rect x="629.0" y="735.5" width="5.0" height="2.0" rx="0" fill="#e02020" />
<rect x="624.0" y="738.0" width="2.0" height="1.5" rx="0" fill="#3070c0" />
<text x="586.0" y="774.0" font-size="9.74" fill="#3c3c3c" text-anchor="middle" font-weight="normal" dominant-baseline="central" textLength="39.0" lengthAdjust="spacingAndGlyphs" stroke="#3c3c3c" stroke-width="0.25">单兵执法</text>
<text x="638.2" y="774.0" font-size="9.72" fill="#3c3c3c" text-anchor="middle" font-weight="normal" dominant-baseline="central" textLength="38.9" lengthAdjust="spacingAndGlyphs" stroke="#3c3c3c" stroke-width="0.25">车载取证</text>
<text x="607.6" y="811.0" font-size="12.85" fill="#1a7ac4" text-anchor="middle" font-weight="bold" dominant-baseline="central" textLength="77.1" lengthAdjust="spacingAndGlyphs">高清移动监控</text>
<rect x="668.3" y="680.7" width="124.9" height="4.7" fill="url(#busg2)"/>
<polygon points="680.4,648.9 704.4,654.4 717.9,648.9 693.9,643.4" fill="#4d5357" />
<polygon points="680.4,648.9 704.4,654.4 704.4,663.9 680.4,658.4" fill="#5c6266" />
<polygon points="704.4,654.4 717.9,648.9 717.9,658.4 704.4,663.9" fill="#33383c" />
<line x1="681.4" y1="651.3" x2="703.4" y2="656.8" stroke="#7e8488" stroke-width="0.5"/>
<line x1="681.4" y1="653.6" x2="703.4" y2="659.2" stroke="#7e8488" stroke-width="0.5"/>
<line x1="681.4" y1="656.0" x2="703.4" y2="661.5" stroke="#7e8488" stroke-width="0.5"/>
<line x1="717.0" y1="647.5" x2="742.0" y2="647.5" stroke="#333" stroke-width="0.7"/>
<polygon points="745.5,647.5 742.5,645.9 742.5,649.1" fill="#222" />
<line x1="717.0" y1="651.6" x2="742.0" y2="651.6" stroke="#333" stroke-width="0.7"/>
<polygon points="745.5,651.6 742.5,650.0 742.5,653.2" fill="#222" />
<line x1="717.0" y1="655.4" x2="742.0" y2="655.4" stroke="#333" stroke-width="0.7"/>
<polygon points="745.5,655.4 742.5,653.8 742.5,657.0" fill="#222" />
<rect x="750.5" y="632.6" width="37.4" height="27.8" rx="0" fill="#3c5a70" />
<rect x="751.2" y="633.3" width="17.8" height="13.0" rx="0" fill="#1590dc" />
<polygon points="751.2,642.3 769.0,636.3 769.0,646.3 751.2,646.3" fill="#0f7fc8" />
<rect x="769.5" y="633.3" width="17.8" height="13.0" rx="0" fill="#1590dc" />
<polygon points="769.5,642.3 787.3,636.3 787.3,646.3 769.5,646.3" fill="#0f7fc8" />
<rect x="751.2" y="646.8" width="17.8" height="13.0" rx="0" fill="#1590dc" />
<polygon points="751.2,655.8 769.0,649.8 769.0,659.8 751.2,659.8" fill="#0f7fc8" />
<rect x="769.5" y="646.8" width="17.8" height="13.0" rx="0" fill="#1590dc" />
<polygon points="769.5,655.8 787.3,649.8 787.3,659.8 769.5,659.8" fill="#0f7fc8" />
<line x1="697.4" y1="662.0" x2="697.4" y2="730.0" stroke="#6cc28a" stroke-width="0.8"/>
<line x1="760.0" y1="685.4" x2="760.0" y2="697.0" stroke="#6cc28a" stroke-width="0.8"/>
<polygon points="744.1,705.9 765.6,712.4 780.0,705.9 758.5,699.4" fill="#454b4f" />
<polygon points="744.1,705.9 765.6,712.4 765.6,716.4 744.1,709.9" fill="#2e3337" />
<polygon points="765.6,712.4 780.0,705.9 780.0,709.9 765.6,716.4" fill="#25292c" />
<polygon points="757.0,705.5 762.0,703.0 767.0,705.8 762.0,708.3" fill="#d9dcdf" />
<text x="770.4" y="720.3" font-size="9.00" fill="#222" dominant-baseline="central" textLength="14.0" lengthAdjust="spacingAndGlyphs" style="font-family:'Liberation Serif',serif">DVR</text>
<polyline points="762.5,745.0 762.5,721.0" fill="none" stroke="#333" stroke-width="0.8"/>
<polygon points="762.5,718.2 760.7,721.4 764.3,721.4" fill="#222" />
<circle cx="762.5" cy="733.8" r="3.2" fill="#fff" stroke="#333" stroke-width="0.8"/>
<line x1="766.2" y1="729.8" x2="766.2" y2="737.8" stroke="#333" stroke-width="0.8"/>
<rect x="694.7" y="730.6" width="6.3" height="5.7" rx="0" fill="#c9cdd0" />
<rect x="697.0" y="730.6" width="2.9" height="5.7" rx="0" fill="#e9ebec" />
<path d="M685.2,759.3 L683.5,748.5 A14.4,12.2 0 0 1 712.2,748.5 L710.5,759.3 Z" fill="#e7e9eb"/>
<path d="M703.6,737.1 A14.4,12.2 0 0 1 712.2,748.5 L710.5,759.3 L705.0,759.3 Z" fill="#d6d9dc"/>
<path d="M687.5,758.6 L708.2,758.6 C707.6,767.2 688.1,767.2 687.5,758.6 Z" fill="#222528"/>
<ellipse cx="697.9" cy="763.3" rx="2.3" ry="1.6" fill="#1a88d4"/>
<rect x="690.1" y="742.4" width="15.5" height="15.1" rx="1" fill="#f0f1f2" stroke="#7d8287" stroke-width="0.8" />
<rect x="691.7" y="744.0" width="12.4" height="12.1" rx="0.5" fill="#f4f4f4" />
<text x="697.9" y="750.5" font-size="11.31" fill="#2a6fb0" text-anchor="middle" font-weight="bold" dominant-baseline="central" letter-spacing="0">e</text>
<polygon points="765.0,745.8 782.9,738.6 786.0,741.6 769.2,750.6" fill="#dadde0" stroke="#b4b8bc" stroke-width="0.4" />
<polygon points="741.7,755.3 752.9,757.0 776.9,743.0 765.7,741.3" fill="#eceef0" />
<polygon points="752.9,757.0 776.9,743.0 776.9,755.7 752.9,769.7" fill="#d3d6d9" />
<polygon points="741.7,755.3 752.9,757.0 752.9,769.7 741.7,768.0" fill="#c9ccd0" />
<polygon points="743.3,757.1 752.0,758.4 752.0,768.7 743.3,766.7" fill="#24272a" />
<ellipse cx="747.3" cy="763.1" rx="2.2" ry="3.6" fill="#1a88d4"/>
<ellipse cx="746.6" cy="762.1" rx="0.7" ry="1.1" fill="#5cb8f0"/>
<ellipse cx="780" cy="744" rx="4" ry="5" fill="#e4e6e8" stroke="#b5b9bd" stroke-width="0.5"/>
<text x="723.6" y="670.5" font-size="11.00" fill="#3c3c3c" text-anchor="middle" font-weight="normal" dominant-baseline="central" textLength="51.2" lengthAdjust="spacingAndGlyphs" stroke="#3c3c3c" stroke-width="0.25">服务器&amp;存储</text>
<text x="778.2" y="670.5" font-size="9.28" fill="#3c3c3c" text-anchor="middle" font-weight="normal" dominant-baseline="central" textLength="27.8" lengthAdjust="spacingAndGlyphs" stroke="#3c3c3c" stroke-width="0.25">电视墙</text>
<text x="699.9" y="774.9" font-size="9.67" fill="#3c3c3c" text-anchor="middle" font-weight="normal" dominant-baseline="central" textLength="48.4" lengthAdjust="spacingAndGlyphs" stroke="#3c3c3c" stroke-width="0.25">网络摄像机</text>
<text x="771.0" y="774.9" font-size="9.69" fill="#3c3c3c" text-anchor="middle" font-weight="normal" dominant-baseline="central" textLength="48.5" lengthAdjust="spacingAndGlyphs" stroke="#3c3c3c" stroke-width="0.25">模拟摄像机</text>
<text x="730.0" y="811.0" font-size="12.83" fill="#1a7ac4" text-anchor="middle" font-weight="bold" dominant-baseline="central" textLength="89.8" lengthAdjust="spacingAndGlyphs">社会面监控资源</text>

</svg>
</body></html>
